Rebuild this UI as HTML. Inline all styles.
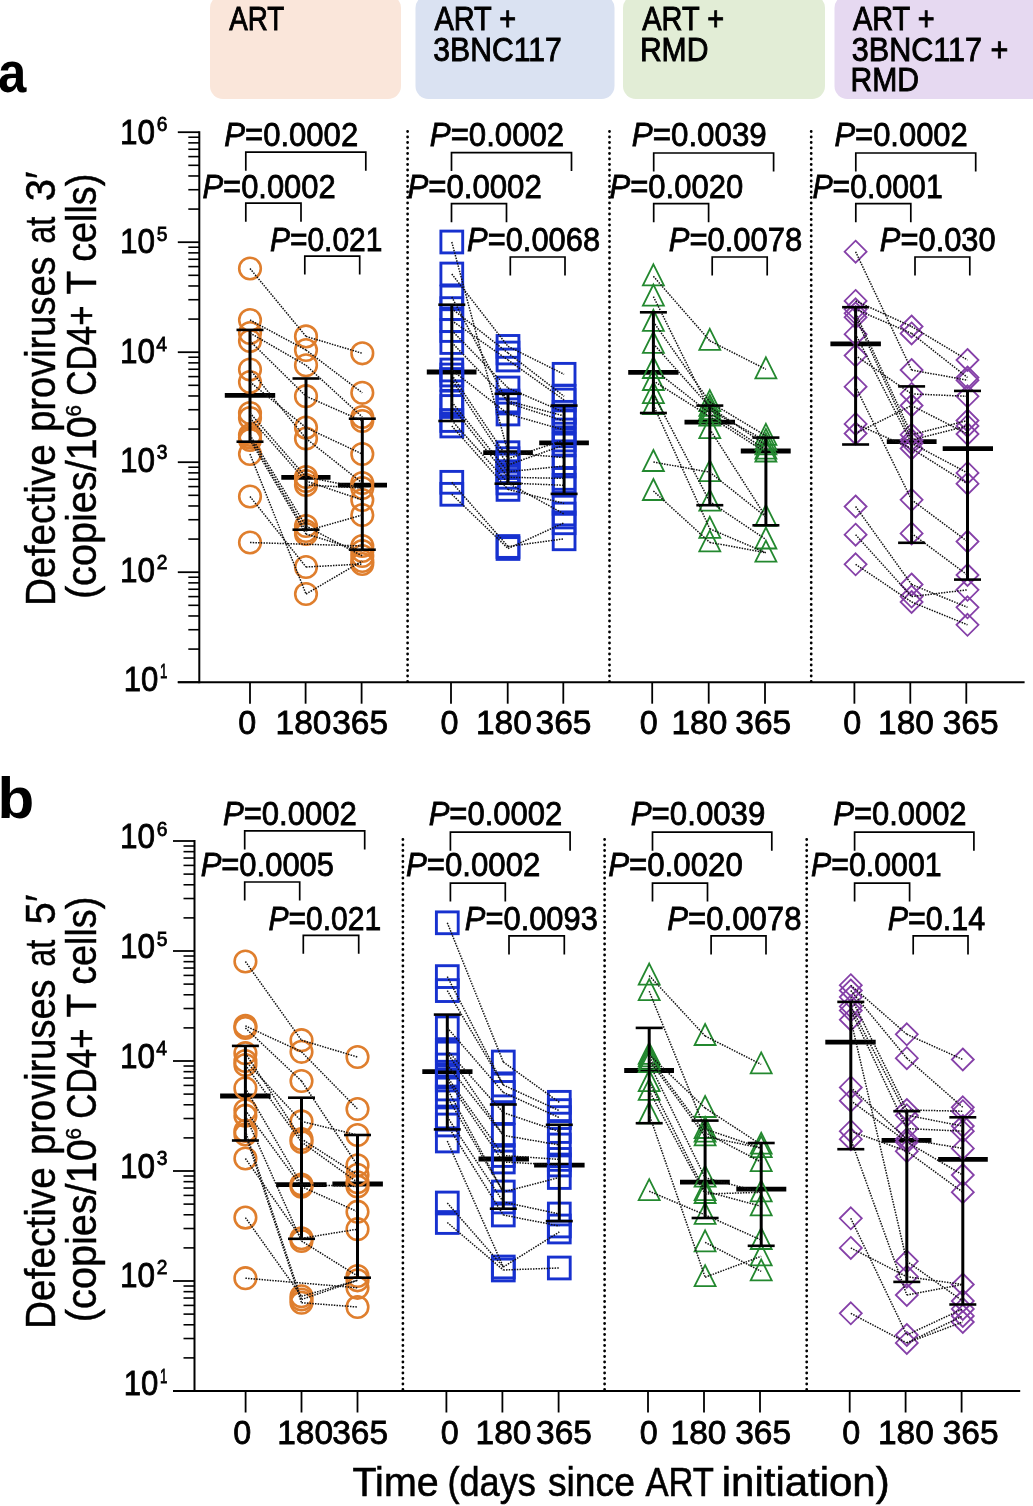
<!DOCTYPE html>
<html><head><meta charset="utf-8"><style>html,body{margin:0;padding:0;background:#fff;}svg{display:block;will-change:transform;}</style></head>
<body>
<svg width="1033" height="1506" viewBox="0 0 1033 1506">
<rect width="1033" height="1506" fill="#ffffff"/>
<rect x="210" y="-5" width="191" height="104" rx="13" ry="13" fill="#FAE6DA"/>
<rect x="415.5" y="-5" width="199.0" height="104" rx="13" ry="13" fill="#DAE2F2"/>
<rect x="623" y="-5" width="202" height="104" rx="13" ry="13" fill="#E2EDD6"/>
<rect x="834.5" y="-5" width="210.5" height="104" rx="13" ry="13" fill="#E6D9F1"/>
<text font-family="Liberation Sans" font-size="32.9" x="229.19" y="29.60" textLength="55.09" lengthAdjust="spacingAndGlyphs"  stroke="#000" stroke-width="0.9">ART</text>
<text font-family="Liberation Sans" font-size="32.9" x="434.39" y="29.60" textLength="81.77" lengthAdjust="spacingAndGlyphs"  stroke="#000" stroke-width="0.9">ART +</text>
<text font-family="Liberation Sans" font-size="32.9" x="433.30" y="60.80" textLength="128.44" lengthAdjust="spacingAndGlyphs"  stroke="#000" stroke-width="0.9">3BNC117</text>
<text font-family="Liberation Sans" font-size="32.9" x="642.29" y="29.60" textLength="81.77" lengthAdjust="spacingAndGlyphs"  stroke="#000" stroke-width="0.9">ART +</text>
<text font-family="Liberation Sans" font-size="32.9" x="639.88" y="60.80" textLength="68.52" lengthAdjust="spacingAndGlyphs"  stroke="#000" stroke-width="0.9">RMD</text>
<text font-family="Liberation Sans" font-size="32.9" x="852.89" y="29.60" textLength="81.77" lengthAdjust="spacingAndGlyphs"  stroke="#000" stroke-width="0.9">ART +</text>
<text font-family="Liberation Sans" font-size="32.9" x="851.79" y="60.80" textLength="156.54" lengthAdjust="spacingAndGlyphs"  stroke="#000" stroke-width="0.9">3BNC117 +</text>
<text font-family="Liberation Sans" font-size="32.9" x="850.48" y="91.40" textLength="68.52" lengthAdjust="spacingAndGlyphs"  stroke="#000" stroke-width="0.9">RMD</text>
<text font-family="Liberation Sans" font-weight="bold" font-size="57" x="-1.98" y="91.50" textLength="28.33" lengthAdjust="spacingAndGlyphs" >a</text>
<text font-family="Liberation Sans" font-weight="bold" font-size="57" x="-2.47" y="817.90" textLength="36.72" lengthAdjust="spacingAndGlyphs" >b</text>
<line x1="199.3" y1="131.20000000000005" x2="199.3" y2="683.2" stroke="#000" stroke-width="2"/>
<line x1="177.8" y1="682.2" x2="1024.6" y2="682.2" stroke="#000" stroke-width="2"/>
<line x1="177.8" y1="682.20" x2="199.3" y2="682.20" stroke="#000" stroke-width="1.8"/>
<line x1="188.3" y1="649.09" x2="199.3" y2="649.09" stroke="#000" stroke-width="1.6"/>
<line x1="188.3" y1="629.72" x2="199.3" y2="629.72" stroke="#000" stroke-width="1.6"/>
<line x1="188.3" y1="615.97" x2="199.3" y2="615.97" stroke="#000" stroke-width="1.6"/>
<line x1="188.3" y1="605.31" x2="199.3" y2="605.31" stroke="#000" stroke-width="1.6"/>
<line x1="188.3" y1="596.60" x2="199.3" y2="596.60" stroke="#000" stroke-width="1.6"/>
<line x1="188.3" y1="589.24" x2="199.3" y2="589.24" stroke="#000" stroke-width="1.6"/>
<line x1="188.3" y1="582.86" x2="199.3" y2="582.86" stroke="#000" stroke-width="1.6"/>
<line x1="188.3" y1="577.23" x2="199.3" y2="577.23" stroke="#000" stroke-width="1.6"/>
<line x1="177.8" y1="572.20" x2="199.3" y2="572.20" stroke="#000" stroke-width="1.8"/>
<line x1="188.3" y1="539.09" x2="199.3" y2="539.09" stroke="#000" stroke-width="1.6"/>
<line x1="188.3" y1="519.72" x2="199.3" y2="519.72" stroke="#000" stroke-width="1.6"/>
<line x1="188.3" y1="505.97" x2="199.3" y2="505.97" stroke="#000" stroke-width="1.6"/>
<line x1="188.3" y1="495.31" x2="199.3" y2="495.31" stroke="#000" stroke-width="1.6"/>
<line x1="188.3" y1="486.60" x2="199.3" y2="486.60" stroke="#000" stroke-width="1.6"/>
<line x1="188.3" y1="479.24" x2="199.3" y2="479.24" stroke="#000" stroke-width="1.6"/>
<line x1="188.3" y1="472.86" x2="199.3" y2="472.86" stroke="#000" stroke-width="1.6"/>
<line x1="188.3" y1="467.23" x2="199.3" y2="467.23" stroke="#000" stroke-width="1.6"/>
<line x1="177.8" y1="462.20" x2="199.3" y2="462.20" stroke="#000" stroke-width="1.8"/>
<line x1="188.3" y1="429.09" x2="199.3" y2="429.09" stroke="#000" stroke-width="1.6"/>
<line x1="188.3" y1="409.72" x2="199.3" y2="409.72" stroke="#000" stroke-width="1.6"/>
<line x1="188.3" y1="395.97" x2="199.3" y2="395.97" stroke="#000" stroke-width="1.6"/>
<line x1="188.3" y1="385.31" x2="199.3" y2="385.31" stroke="#000" stroke-width="1.6"/>
<line x1="188.3" y1="376.60" x2="199.3" y2="376.60" stroke="#000" stroke-width="1.6"/>
<line x1="188.3" y1="369.24" x2="199.3" y2="369.24" stroke="#000" stroke-width="1.6"/>
<line x1="188.3" y1="362.86" x2="199.3" y2="362.86" stroke="#000" stroke-width="1.6"/>
<line x1="188.3" y1="357.23" x2="199.3" y2="357.23" stroke="#000" stroke-width="1.6"/>
<line x1="177.8" y1="352.20" x2="199.3" y2="352.20" stroke="#000" stroke-width="1.8"/>
<line x1="188.3" y1="319.09" x2="199.3" y2="319.09" stroke="#000" stroke-width="1.6"/>
<line x1="188.3" y1="299.72" x2="199.3" y2="299.72" stroke="#000" stroke-width="1.6"/>
<line x1="188.3" y1="285.97" x2="199.3" y2="285.97" stroke="#000" stroke-width="1.6"/>
<line x1="188.3" y1="275.31" x2="199.3" y2="275.31" stroke="#000" stroke-width="1.6"/>
<line x1="188.3" y1="266.60" x2="199.3" y2="266.60" stroke="#000" stroke-width="1.6"/>
<line x1="188.3" y1="259.24" x2="199.3" y2="259.24" stroke="#000" stroke-width="1.6"/>
<line x1="188.3" y1="252.86" x2="199.3" y2="252.86" stroke="#000" stroke-width="1.6"/>
<line x1="188.3" y1="247.23" x2="199.3" y2="247.23" stroke="#000" stroke-width="1.6"/>
<line x1="177.8" y1="242.20" x2="199.3" y2="242.20" stroke="#000" stroke-width="1.8"/>
<line x1="188.3" y1="209.09" x2="199.3" y2="209.09" stroke="#000" stroke-width="1.6"/>
<line x1="188.3" y1="189.72" x2="199.3" y2="189.72" stroke="#000" stroke-width="1.6"/>
<line x1="188.3" y1="175.97" x2="199.3" y2="175.97" stroke="#000" stroke-width="1.6"/>
<line x1="188.3" y1="165.31" x2="199.3" y2="165.31" stroke="#000" stroke-width="1.6"/>
<line x1="188.3" y1="156.60" x2="199.3" y2="156.60" stroke="#000" stroke-width="1.6"/>
<line x1="188.3" y1="149.24" x2="199.3" y2="149.24" stroke="#000" stroke-width="1.6"/>
<line x1="188.3" y1="142.86" x2="199.3" y2="142.86" stroke="#000" stroke-width="1.6"/>
<line x1="188.3" y1="137.23" x2="199.3" y2="137.23" stroke="#000" stroke-width="1.6"/>
<line x1="177.8" y1="132.20" x2="199.3" y2="132.20" stroke="#000" stroke-width="1.8"/>
<line x1="250.0" y1="682.2" x2="250.0" y2="703.7" stroke="#000" stroke-width="1.8"/>
<line x1="305.6" y1="682.2" x2="305.6" y2="703.7" stroke="#000" stroke-width="1.8"/>
<line x1="361.6" y1="682.2" x2="361.6" y2="703.7" stroke="#000" stroke-width="1.8"/>
<line x1="451.0" y1="682.2" x2="451.0" y2="703.7" stroke="#000" stroke-width="1.8"/>
<line x1="507.7" y1="682.2" x2="507.7" y2="703.7" stroke="#000" stroke-width="1.8"/>
<line x1="563.3" y1="682.2" x2="563.3" y2="703.7" stroke="#000" stroke-width="1.8"/>
<line x1="652.2" y1="682.2" x2="652.2" y2="703.7" stroke="#000" stroke-width="1.8"/>
<line x1="708.7" y1="682.2" x2="708.7" y2="703.7" stroke="#000" stroke-width="1.8"/>
<line x1="765.0" y1="682.2" x2="765.0" y2="703.7" stroke="#000" stroke-width="1.8"/>
<line x1="854.4" y1="682.2" x2="854.4" y2="703.7" stroke="#000" stroke-width="1.8"/>
<line x1="910.3" y1="682.2" x2="910.3" y2="703.7" stroke="#000" stroke-width="1.8"/>
<line x1="966.3" y1="682.2" x2="966.3" y2="703.7" stroke="#000" stroke-width="1.8"/>
<line x1="407.6" y1="131.5" x2="407.6" y2="684.2" stroke="#000" stroke-width="2.8" stroke-dasharray="0 5.5" stroke-linecap="round"/>
<line x1="609.5" y1="131.5" x2="609.5" y2="684.2" stroke="#000" stroke-width="2.8" stroke-dasharray="0 5.5" stroke-linecap="round"/>
<line x1="811.2" y1="131.5" x2="811.2" y2="684.2" stroke="#000" stroke-width="2.8" stroke-dasharray="0 5.5" stroke-linecap="round"/>
<line x1="194.5" y1="840.0" x2="194.5" y2="1392.0" stroke="#000" stroke-width="2"/>
<line x1="173.0" y1="1391.0" x2="1020.2" y2="1391.0" stroke="#000" stroke-width="2"/>
<line x1="173.0" y1="1391.00" x2="194.5" y2="1391.00" stroke="#000" stroke-width="1.8"/>
<line x1="183.5" y1="1357.89" x2="194.5" y2="1357.89" stroke="#000" stroke-width="1.6"/>
<line x1="183.5" y1="1338.52" x2="194.5" y2="1338.52" stroke="#000" stroke-width="1.6"/>
<line x1="183.5" y1="1324.77" x2="194.5" y2="1324.77" stroke="#000" stroke-width="1.6"/>
<line x1="183.5" y1="1314.11" x2="194.5" y2="1314.11" stroke="#000" stroke-width="1.6"/>
<line x1="183.5" y1="1305.40" x2="194.5" y2="1305.40" stroke="#000" stroke-width="1.6"/>
<line x1="183.5" y1="1298.04" x2="194.5" y2="1298.04" stroke="#000" stroke-width="1.6"/>
<line x1="183.5" y1="1291.66" x2="194.5" y2="1291.66" stroke="#000" stroke-width="1.6"/>
<line x1="183.5" y1="1286.03" x2="194.5" y2="1286.03" stroke="#000" stroke-width="1.6"/>
<line x1="173.0" y1="1281.00" x2="194.5" y2="1281.00" stroke="#000" stroke-width="1.8"/>
<line x1="183.5" y1="1247.89" x2="194.5" y2="1247.89" stroke="#000" stroke-width="1.6"/>
<line x1="183.5" y1="1228.52" x2="194.5" y2="1228.52" stroke="#000" stroke-width="1.6"/>
<line x1="183.5" y1="1214.77" x2="194.5" y2="1214.77" stroke="#000" stroke-width="1.6"/>
<line x1="183.5" y1="1204.11" x2="194.5" y2="1204.11" stroke="#000" stroke-width="1.6"/>
<line x1="183.5" y1="1195.40" x2="194.5" y2="1195.40" stroke="#000" stroke-width="1.6"/>
<line x1="183.5" y1="1188.04" x2="194.5" y2="1188.04" stroke="#000" stroke-width="1.6"/>
<line x1="183.5" y1="1181.66" x2="194.5" y2="1181.66" stroke="#000" stroke-width="1.6"/>
<line x1="183.5" y1="1176.03" x2="194.5" y2="1176.03" stroke="#000" stroke-width="1.6"/>
<line x1="173.0" y1="1171.00" x2="194.5" y2="1171.00" stroke="#000" stroke-width="1.8"/>
<line x1="183.5" y1="1137.89" x2="194.5" y2="1137.89" stroke="#000" stroke-width="1.6"/>
<line x1="183.5" y1="1118.52" x2="194.5" y2="1118.52" stroke="#000" stroke-width="1.6"/>
<line x1="183.5" y1="1104.77" x2="194.5" y2="1104.77" stroke="#000" stroke-width="1.6"/>
<line x1="183.5" y1="1094.11" x2="194.5" y2="1094.11" stroke="#000" stroke-width="1.6"/>
<line x1="183.5" y1="1085.40" x2="194.5" y2="1085.40" stroke="#000" stroke-width="1.6"/>
<line x1="183.5" y1="1078.04" x2="194.5" y2="1078.04" stroke="#000" stroke-width="1.6"/>
<line x1="183.5" y1="1071.66" x2="194.5" y2="1071.66" stroke="#000" stroke-width="1.6"/>
<line x1="183.5" y1="1066.03" x2="194.5" y2="1066.03" stroke="#000" stroke-width="1.6"/>
<line x1="173.0" y1="1061.00" x2="194.5" y2="1061.00" stroke="#000" stroke-width="1.8"/>
<line x1="183.5" y1="1027.89" x2="194.5" y2="1027.89" stroke="#000" stroke-width="1.6"/>
<line x1="183.5" y1="1008.52" x2="194.5" y2="1008.52" stroke="#000" stroke-width="1.6"/>
<line x1="183.5" y1="994.77" x2="194.5" y2="994.77" stroke="#000" stroke-width="1.6"/>
<line x1="183.5" y1="984.11" x2="194.5" y2="984.11" stroke="#000" stroke-width="1.6"/>
<line x1="183.5" y1="975.40" x2="194.5" y2="975.40" stroke="#000" stroke-width="1.6"/>
<line x1="183.5" y1="968.04" x2="194.5" y2="968.04" stroke="#000" stroke-width="1.6"/>
<line x1="183.5" y1="961.66" x2="194.5" y2="961.66" stroke="#000" stroke-width="1.6"/>
<line x1="183.5" y1="956.03" x2="194.5" y2="956.03" stroke="#000" stroke-width="1.6"/>
<line x1="173.0" y1="951.00" x2="194.5" y2="951.00" stroke="#000" stroke-width="1.8"/>
<line x1="183.5" y1="917.89" x2="194.5" y2="917.89" stroke="#000" stroke-width="1.6"/>
<line x1="183.5" y1="898.52" x2="194.5" y2="898.52" stroke="#000" stroke-width="1.6"/>
<line x1="183.5" y1="884.77" x2="194.5" y2="884.77" stroke="#000" stroke-width="1.6"/>
<line x1="183.5" y1="874.11" x2="194.5" y2="874.11" stroke="#000" stroke-width="1.6"/>
<line x1="183.5" y1="865.40" x2="194.5" y2="865.40" stroke="#000" stroke-width="1.6"/>
<line x1="183.5" y1="858.04" x2="194.5" y2="858.04" stroke="#000" stroke-width="1.6"/>
<line x1="183.5" y1="851.66" x2="194.5" y2="851.66" stroke="#000" stroke-width="1.6"/>
<line x1="183.5" y1="846.03" x2="194.5" y2="846.03" stroke="#000" stroke-width="1.6"/>
<line x1="173.0" y1="841.00" x2="194.5" y2="841.00" stroke="#000" stroke-width="1.8"/>
<line x1="245.6" y1="1391.0" x2="245.6" y2="1412.5" stroke="#000" stroke-width="1.8"/>
<line x1="301.5" y1="1391.0" x2="301.5" y2="1412.5" stroke="#000" stroke-width="1.8"/>
<line x1="357.5" y1="1391.0" x2="357.5" y2="1412.5" stroke="#000" stroke-width="1.8"/>
<line x1="446.4" y1="1391.0" x2="446.4" y2="1412.5" stroke="#000" stroke-width="1.8"/>
<line x1="502.4" y1="1391.0" x2="502.4" y2="1412.5" stroke="#000" stroke-width="1.8"/>
<line x1="558.6" y1="1391.0" x2="558.6" y2="1412.5" stroke="#000" stroke-width="1.8"/>
<line x1="648.0" y1="1391.0" x2="648.0" y2="1412.5" stroke="#000" stroke-width="1.8"/>
<line x1="704.0" y1="1391.0" x2="704.0" y2="1412.5" stroke="#000" stroke-width="1.8"/>
<line x1="760.0" y1="1391.0" x2="760.0" y2="1412.5" stroke="#000" stroke-width="1.8"/>
<line x1="849.7" y1="1391.0" x2="849.7" y2="1412.5" stroke="#000" stroke-width="1.8"/>
<line x1="905.6" y1="1391.0" x2="905.6" y2="1412.5" stroke="#000" stroke-width="1.8"/>
<line x1="961.6" y1="1391.0" x2="961.6" y2="1412.5" stroke="#000" stroke-width="1.8"/>
<line x1="402.9" y1="839.5" x2="402.9" y2="1393.0" stroke="#000" stroke-width="2.8" stroke-dasharray="0 5.5" stroke-linecap="round"/>
<line x1="604.6" y1="839.5" x2="604.6" y2="1393.0" stroke="#000" stroke-width="2.8" stroke-dasharray="0 5.5" stroke-linecap="round"/>
<line x1="806.7" y1="839.5" x2="806.7" y2="1393.0" stroke="#000" stroke-width="2.8" stroke-dasharray="0 5.5" stroke-linecap="round"/>
<text font-family="Liberation Sans" font-size="34.5" x="123.84" y="690.60" textLength="34.59" lengthAdjust="spacingAndGlyphs"  stroke="#000" stroke-width="0.8">10</text>
<text font-family="Liberation Sans" font-size="21" x="159.89" y="678.20" textLength="7.36" lengthAdjust="spacingAndGlyphs"  stroke="#000" stroke-width="0.8">1</text>
<text font-family="Liberation Sans" font-size="34.5" x="120.01" y="581.60" textLength="35.03" lengthAdjust="spacingAndGlyphs"  stroke="#000" stroke-width="0.8">10</text>
<text font-family="Liberation Sans" font-size="21" x="156.86" y="569.20" textLength="10.70" lengthAdjust="spacingAndGlyphs"  stroke="#000" stroke-width="0.8">2</text>
<text font-family="Liberation Sans" font-size="34.5" x="120.01" y="471.80" textLength="35.03" lengthAdjust="spacingAndGlyphs"  stroke="#000" stroke-width="0.8">10</text>
<text font-family="Liberation Sans" font-size="21" x="156.71" y="459.40" textLength="10.74" lengthAdjust="spacingAndGlyphs"  stroke="#000" stroke-width="0.8">3</text>
<text font-family="Liberation Sans" font-size="34.5" x="120.01" y="363.20" textLength="35.03" lengthAdjust="spacingAndGlyphs"  stroke="#000" stroke-width="0.8">10</text>
<text font-family="Liberation Sans" font-size="21" x="156.37" y="350.80" textLength="10.80" lengthAdjust="spacingAndGlyphs"  stroke="#000" stroke-width="0.8">4</text>
<text font-family="Liberation Sans" font-size="34.5" x="120.01" y="253.40" textLength="35.03" lengthAdjust="spacingAndGlyphs"  stroke="#000" stroke-width="0.8">10</text>
<text font-family="Liberation Sans" font-size="21" x="156.67" y="241.00" textLength="10.74" lengthAdjust="spacingAndGlyphs"  stroke="#000" stroke-width="0.8">5</text>
<text font-family="Liberation Sans" font-size="34.5" x="120.01" y="143.60" textLength="35.03" lengthAdjust="spacingAndGlyphs"  stroke="#000" stroke-width="0.8">10</text>
<text font-family="Liberation Sans" font-size="21" x="156.74" y="131.20" textLength="10.71" lengthAdjust="spacingAndGlyphs"  stroke="#000" stroke-width="0.8">6</text>
<text font-family="Liberation Sans" font-size="34.5" x="123.84" y="1395.40" textLength="34.59" lengthAdjust="spacingAndGlyphs"  stroke="#000" stroke-width="0.8">10</text>
<text font-family="Liberation Sans" font-size="21" x="159.89" y="1383.00" textLength="7.36" lengthAdjust="spacingAndGlyphs"  stroke="#000" stroke-width="0.8">1</text>
<text font-family="Liberation Sans" font-size="34.5" x="120.01" y="1286.60" textLength="35.03" lengthAdjust="spacingAndGlyphs"  stroke="#000" stroke-width="0.8">10</text>
<text font-family="Liberation Sans" font-size="21" x="156.86" y="1274.20" textLength="10.70" lengthAdjust="spacingAndGlyphs"  stroke="#000" stroke-width="0.8">2</text>
<text font-family="Liberation Sans" font-size="34.5" x="120.01" y="1177.50" textLength="35.03" lengthAdjust="spacingAndGlyphs"  stroke="#000" stroke-width="0.8">10</text>
<text font-family="Liberation Sans" font-size="21" x="156.71" y="1165.10" textLength="10.74" lengthAdjust="spacingAndGlyphs"  stroke="#000" stroke-width="0.8">3</text>
<text font-family="Liberation Sans" font-size="34.5" x="120.01" y="1067.60" textLength="35.03" lengthAdjust="spacingAndGlyphs"  stroke="#000" stroke-width="0.8">10</text>
<text font-family="Liberation Sans" font-size="21" x="156.37" y="1055.20" textLength="10.80" lengthAdjust="spacingAndGlyphs"  stroke="#000" stroke-width="0.8">4</text>
<text font-family="Liberation Sans" font-size="34.5" x="120.01" y="958.00" textLength="35.03" lengthAdjust="spacingAndGlyphs"  stroke="#000" stroke-width="0.8">10</text>
<text font-family="Liberation Sans" font-size="21" x="156.67" y="945.60" textLength="10.74" lengthAdjust="spacingAndGlyphs"  stroke="#000" stroke-width="0.8">5</text>
<text font-family="Liberation Sans" font-size="34.5" x="120.01" y="848.20" textLength="35.03" lengthAdjust="spacingAndGlyphs"  stroke="#000" stroke-width="0.8">10</text>
<text font-family="Liberation Sans" font-size="21" x="156.74" y="835.80" textLength="10.71" lengthAdjust="spacingAndGlyphs"  stroke="#000" stroke-width="0.8">6</text>
<text font-family="Liberation Sans" font-size="34" x="238.14" y="734.20" textLength="17.98" lengthAdjust="spacingAndGlyphs"  stroke="#000" stroke-width="0.8">0</text>
<text font-family="Liberation Sans" font-size="34" x="275.56" y="734.20" textLength="55.87" lengthAdjust="spacingAndGlyphs"  stroke="#000" stroke-width="0.8">180</text>
<text font-family="Liberation Sans" font-size="34" x="332.23" y="734.20" textLength="55.89" lengthAdjust="spacingAndGlyphs"  stroke="#000" stroke-width="0.8">365</text>
<text font-family="Liberation Sans" font-size="34" x="440.44" y="734.20" textLength="17.98" lengthAdjust="spacingAndGlyphs"  stroke="#000" stroke-width="0.8">0</text>
<text font-family="Liberation Sans" font-size="34" x="475.96" y="734.20" textLength="55.87" lengthAdjust="spacingAndGlyphs"  stroke="#000" stroke-width="0.8">180</text>
<text font-family="Liberation Sans" font-size="34" x="535.53" y="734.20" textLength="55.89" lengthAdjust="spacingAndGlyphs"  stroke="#000" stroke-width="0.8">365</text>
<text font-family="Liberation Sans" font-size="34" x="639.84" y="734.20" textLength="17.98" lengthAdjust="spacingAndGlyphs"  stroke="#000" stroke-width="0.8">0</text>
<text font-family="Liberation Sans" font-size="34" x="671.46" y="734.20" textLength="55.87" lengthAdjust="spacingAndGlyphs"  stroke="#000" stroke-width="0.8">180</text>
<text font-family="Liberation Sans" font-size="34" x="735.33" y="734.20" textLength="55.89" lengthAdjust="spacingAndGlyphs"  stroke="#000" stroke-width="0.8">365</text>
<text font-family="Liberation Sans" font-size="34" x="843.14" y="734.20" textLength="17.98" lengthAdjust="spacingAndGlyphs"  stroke="#000" stroke-width="0.8">0</text>
<text font-family="Liberation Sans" font-size="34" x="878.06" y="734.20" textLength="55.87" lengthAdjust="spacingAndGlyphs"  stroke="#000" stroke-width="0.8">180</text>
<text font-family="Liberation Sans" font-size="34" x="942.73" y="734.20" textLength="55.89" lengthAdjust="spacingAndGlyphs"  stroke="#000" stroke-width="0.8">365</text>
<text font-family="Liberation Sans" font-size="34" x="233.14" y="1444.20" textLength="17.98" lengthAdjust="spacingAndGlyphs"  stroke="#000" stroke-width="0.8">0</text>
<text font-family="Liberation Sans" font-size="34" x="277.16" y="1444.20" textLength="55.87" lengthAdjust="spacingAndGlyphs"  stroke="#000" stroke-width="0.8">180</text>
<text font-family="Liberation Sans" font-size="34" x="332.23" y="1444.20" textLength="55.89" lengthAdjust="spacingAndGlyphs"  stroke="#000" stroke-width="0.8">365</text>
<text font-family="Liberation Sans" font-size="34" x="440.64" y="1444.20" textLength="17.98" lengthAdjust="spacingAndGlyphs"  stroke="#000" stroke-width="0.8">0</text>
<text font-family="Liberation Sans" font-size="34" x="475.56" y="1444.20" textLength="55.87" lengthAdjust="spacingAndGlyphs"  stroke="#000" stroke-width="0.8">180</text>
<text font-family="Liberation Sans" font-size="34" x="536.03" y="1444.20" textLength="55.89" lengthAdjust="spacingAndGlyphs"  stroke="#000" stroke-width="0.8">365</text>
<text font-family="Liberation Sans" font-size="34" x="639.74" y="1444.20" textLength="17.98" lengthAdjust="spacingAndGlyphs"  stroke="#000" stroke-width="0.8">0</text>
<text font-family="Liberation Sans" font-size="34" x="670.56" y="1444.20" textLength="55.87" lengthAdjust="spacingAndGlyphs"  stroke="#000" stroke-width="0.8">180</text>
<text font-family="Liberation Sans" font-size="34" x="735.23" y="1444.20" textLength="55.89" lengthAdjust="spacingAndGlyphs"  stroke="#000" stroke-width="0.8">365</text>
<text font-family="Liberation Sans" font-size="34" x="842.24" y="1444.20" textLength="17.98" lengthAdjust="spacingAndGlyphs"  stroke="#000" stroke-width="0.8">0</text>
<text font-family="Liberation Sans" font-size="34" x="877.96" y="1444.20" textLength="55.87" lengthAdjust="spacingAndGlyphs"  stroke="#000" stroke-width="0.8">180</text>
<text font-family="Liberation Sans" font-size="34" x="942.63" y="1444.20" textLength="55.89" lengthAdjust="spacingAndGlyphs"  stroke="#000" stroke-width="0.8">365</text>
<text font-family="Liberation Sans" font-size="41.6" transform="translate(54.70,602.77) rotate(-90)" x="-3.18" y="0" textLength="161.76" lengthAdjust="spacingAndGlyphs" stroke="#000" stroke-width="0.45">Defective</text>
<text font-family="Liberation Sans" font-size="41.6" transform="translate(54.70,429.38) rotate(-90)" x="-2.43" y="0" textLength="175.34" lengthAdjust="spacingAndGlyphs" stroke="#000" stroke-width="0.45">proviruses</text>
<text font-family="Liberation Sans" font-size="41.6" transform="translate(54.70,242.47) rotate(-90)" x="-1.37" y="0" textLength="27.14" lengthAdjust="spacingAndGlyphs" stroke="#000" stroke-width="0.45">at</text>
<text font-family="Liberation Sans" font-size="41.6" transform="translate(54.70,199.78) rotate(-90)" x="-1.52" y="0" textLength="29.76" lengthAdjust="spacingAndGlyphs" stroke="#000" stroke-width="0.45">3′</text>
<text font-family="Liberation Sans" font-size="41.6" transform="translate(96.30,596.67) rotate(-90)" x="-2.46" y="0" textLength="182.84" lengthAdjust="spacingAndGlyphs" stroke="#000" stroke-width="0.45">(copies/10</text>
<text font-family="Liberation Sans" font-size="41.6" transform="translate(96.30,393.97) rotate(-90)" x="-1.78" y="0" textLength="90.33" lengthAdjust="spacingAndGlyphs" stroke="#000" stroke-width="0.45">CD4+</text>
<text font-family="Liberation Sans" font-size="41.6" transform="translate(96.30,293.67) rotate(-90)" x="-0.85" y="0" textLength="23.69" lengthAdjust="spacingAndGlyphs" stroke="#000" stroke-width="0.45">T</text>
<text font-family="Liberation Sans" font-size="41.6" transform="translate(96.30,260.17) rotate(-90)" x="-1.58" y="0" textLength="88.06" lengthAdjust="spacingAndGlyphs" stroke="#000" stroke-width="0.45">cells)</text>
<text font-family="Liberation Sans" font-size="21.5" transform="translate(81.40,415.47) rotate(-90)" x="-1.06" y="0" textLength="11.52" lengthAdjust="spacingAndGlyphs" stroke="#000" stroke-width="0.45">6</text>
<text font-family="Liberation Sans" font-size="41.6" transform="translate(54.70,1325.78) rotate(-90)" x="-3.18" y="0" textLength="161.76" lengthAdjust="spacingAndGlyphs" stroke="#000" stroke-width="0.45">Defective</text>
<text font-family="Liberation Sans" font-size="41.6" transform="translate(54.70,1152.38) rotate(-90)" x="-2.43" y="0" textLength="175.34" lengthAdjust="spacingAndGlyphs" stroke="#000" stroke-width="0.45">proviruses</text>
<text font-family="Liberation Sans" font-size="41.6" transform="translate(54.70,965.48) rotate(-90)" x="-1.37" y="0" textLength="27.14" lengthAdjust="spacingAndGlyphs" stroke="#000" stroke-width="0.45">at</text>
<text font-family="Liberation Sans" font-size="41.6" transform="translate(54.70,922.77) rotate(-90)" x="-1.61" y="0" textLength="29.84" lengthAdjust="spacingAndGlyphs" stroke="#000" stroke-width="0.45">5′</text>
<text font-family="Liberation Sans" font-size="41.6" transform="translate(96.30,1319.68) rotate(-90)" x="-2.46" y="0" textLength="182.84" lengthAdjust="spacingAndGlyphs" stroke="#000" stroke-width="0.45">(copies/10</text>
<text font-family="Liberation Sans" font-size="41.6" transform="translate(96.30,1116.98) rotate(-90)" x="-1.78" y="0" textLength="90.33" lengthAdjust="spacingAndGlyphs" stroke="#000" stroke-width="0.45">CD4+</text>
<text font-family="Liberation Sans" font-size="41.6" transform="translate(96.30,1016.67) rotate(-90)" x="-0.85" y="0" textLength="23.69" lengthAdjust="spacingAndGlyphs" stroke="#000" stroke-width="0.45">T</text>
<text font-family="Liberation Sans" font-size="41.6" transform="translate(96.30,983.17) rotate(-90)" x="-1.58" y="0" textLength="88.06" lengthAdjust="spacingAndGlyphs" stroke="#000" stroke-width="0.45">cells)</text>
<text font-family="Liberation Sans" font-size="21.5" transform="translate(81.40,1138.48) rotate(-90)" x="-1.06" y="0" textLength="11.52" lengthAdjust="spacingAndGlyphs" stroke="#000" stroke-width="0.45">6</text>
<text font-family="Liberation Sans" font-size="40.5" x="352.53" y="1496.40" textLength="86.10" lengthAdjust="spacingAndGlyphs"  stroke="#000" stroke-width="0.6">Time</text>
<text font-family="Liberation Sans" font-size="40.5" x="447.46" y="1496.40" textLength="88.35" lengthAdjust="spacingAndGlyphs"  stroke="#000" stroke-width="0.6">(days</text>
<text font-family="Liberation Sans" font-size="40.5" x="547.96" y="1496.40" textLength="86.90" lengthAdjust="spacingAndGlyphs"  stroke="#000" stroke-width="0.6">since</text>
<text font-family="Liberation Sans" font-size="40.5" x="645.43" y="1496.40" textLength="68.56" lengthAdjust="spacingAndGlyphs"  stroke="#000" stroke-width="0.6">ART</text>
<text font-family="Liberation Sans" font-size="40.5" x="721.79" y="1496.40" textLength="167.91" lengthAdjust="spacingAndGlyphs"  stroke="#000" stroke-width="0.6">initiation)</text>
<text font-family="Liberation Sans" font-size="33.5" x="224.35" y="146.00" textLength="133.82" lengthAdjust="spacingAndGlyphs"  stroke="#000" stroke-width="0.8"><tspan font-style="italic">P</tspan>=0.0002</text>
<path d="M245.8,170.7 V152.2 H365.8 V170.7" fill="none" stroke="#000" stroke-width="1.7"/>
<text font-family="Liberation Sans" font-size="33.5" x="202.47" y="197.60" textLength="133.20" lengthAdjust="spacingAndGlyphs"  stroke="#000" stroke-width="0.8"><tspan font-style="italic">P</tspan>=0.0002</text>
<path d="M245.8,221.7 V203.2 H301.0 V221.7" fill="none" stroke="#000" stroke-width="1.7"/>
<text font-family="Liberation Sans" font-size="33.5" x="269.94" y="250.60" textLength="112.54" lengthAdjust="spacingAndGlyphs"  stroke="#000" stroke-width="0.8"><tspan font-style="italic">P</tspan>=0.021</text>
<path d="M304.8,274.6 V256.1 H359.7 V274.6" fill="none" stroke="#000" stroke-width="1.7"/>
<text font-family="Liberation Sans" font-size="33.5" x="429.84" y="146.20" textLength="134.33" lengthAdjust="spacingAndGlyphs"  stroke="#000" stroke-width="0.8"><tspan font-style="italic">P</tspan>=0.0002</text>
<path d="M451.5,171.1 V152.6 H571.5 V171.1" fill="none" stroke="#000" stroke-width="1.7"/>
<text font-family="Liberation Sans" font-size="33.5" x="407.44" y="197.80" textLength="134.33" lengthAdjust="spacingAndGlyphs"  stroke="#000" stroke-width="0.8"><tspan font-style="italic">P</tspan>=0.0002</text>
<path d="M451.5,222.2 V203.7 H506.5 V222.2" fill="none" stroke="#000" stroke-width="1.7"/>
<text font-family="Liberation Sans" font-size="33.5" x="467.07" y="251.00" textLength="132.98" lengthAdjust="spacingAndGlyphs"  stroke="#000" stroke-width="0.8"><tspan font-style="italic">P</tspan>=0.0068</text>
<path d="M510.3,275.5 V257.0 H565.0 V275.5" fill="none" stroke="#000" stroke-width="1.7"/>
<text font-family="Liberation Sans" font-size="33.5" x="631.83" y="146.20" textLength="134.96" lengthAdjust="spacingAndGlyphs"  stroke="#000" stroke-width="0.8"><tspan font-style="italic">P</tspan>=0.0039</text>
<path d="M653.7,171.5 V153.0 H773.6 V171.5" fill="none" stroke="#000" stroke-width="1.7"/>
<text font-family="Liberation Sans" font-size="33.5" x="609.56" y="197.80" textLength="133.57" lengthAdjust="spacingAndGlyphs"  stroke="#000" stroke-width="0.8"><tspan font-style="italic">P</tspan>=0.0020</text>
<path d="M653.7,222.2 V203.7 H708.6 V222.2" fill="none" stroke="#000" stroke-width="1.7"/>
<text font-family="Liberation Sans" font-size="33.5" x="668.76" y="251.00" textLength="133.49" lengthAdjust="spacingAndGlyphs"  stroke="#000" stroke-width="0.8"><tspan font-style="italic">P</tspan>=0.0078</text>
<path d="M712.2,275.5 V257.0 H767.2 V275.5" fill="none" stroke="#000" stroke-width="1.7"/>
<text font-family="Liberation Sans" font-size="33.5" x="834.46" y="146.20" textLength="133.30" lengthAdjust="spacingAndGlyphs"  stroke="#000" stroke-width="0.8"><tspan font-style="italic">P</tspan>=0.0002</text>
<path d="M855.8,171.5 V153.0 H975.7 V171.5" fill="none" stroke="#000" stroke-width="1.7"/>
<text font-family="Liberation Sans" font-size="33.5" x="812.42" y="197.80" textLength="130.28" lengthAdjust="spacingAndGlyphs"  stroke="#000" stroke-width="0.8"><tspan font-style="italic">P</tspan>=0.0001</text>
<path d="M855.8,222.2 V203.7 H910.8 V222.2" fill="none" stroke="#000" stroke-width="1.7"/>
<text font-family="Liberation Sans" font-size="33.5" x="879.87" y="251.00" textLength="115.85" lengthAdjust="spacingAndGlyphs"  stroke="#000" stroke-width="0.8"><tspan font-style="italic">P</tspan>=0.030</text>
<path d="M915.0,275.5 V257.0 H969.8 V275.5" fill="none" stroke="#000" stroke-width="1.7"/>
<text font-family="Liberation Sans" font-size="33.5" x="222.95" y="824.50" textLength="133.92" lengthAdjust="spacingAndGlyphs"  stroke="#000" stroke-width="0.8"><tspan font-style="italic">P</tspan>=0.0002</text>
<path d="M244.7,849.4 V830.9 H364.7 V849.4" fill="none" stroke="#000" stroke-width="1.7"/>
<text font-family="Liberation Sans" font-size="33.5" x="200.66" y="876.30" textLength="133.36" lengthAdjust="spacingAndGlyphs"  stroke="#000" stroke-width="0.8"><tspan font-style="italic">P</tspan>=0.0005</text>
<path d="M244.7,900.5 V882.0 H299.7 V900.5" fill="none" stroke="#000" stroke-width="1.7"/>
<text font-family="Liberation Sans" font-size="33.5" x="268.43" y="929.50" textLength="112.85" lengthAdjust="spacingAndGlyphs"  stroke="#000" stroke-width="0.8"><tspan font-style="italic">P</tspan>=0.021</text>
<path d="M303.3,953.8 V935.3 H358.7 V953.8" fill="none" stroke="#000" stroke-width="1.7"/>
<text font-family="Liberation Sans" font-size="33.5" x="428.66" y="824.50" textLength="133.61" lengthAdjust="spacingAndGlyphs"  stroke="#000" stroke-width="0.8"><tspan font-style="italic">P</tspan>=0.0002</text>
<path d="M450.4,850.7 V832.2 H570.1 V850.7" fill="none" stroke="#000" stroke-width="1.7"/>
<text font-family="Liberation Sans" font-size="33.5" x="406.04" y="876.30" textLength="134.33" lengthAdjust="spacingAndGlyphs"  stroke="#000" stroke-width="0.8"><tspan font-style="italic">P</tspan>=0.0002</text>
<path d="M450.4,901.6 V883.1 H505.3 V901.6" fill="none" stroke="#000" stroke-width="1.7"/>
<text font-family="Liberation Sans" font-size="33.5" x="464.87" y="930.10" textLength="133.01" lengthAdjust="spacingAndGlyphs"  stroke="#000" stroke-width="0.8"><tspan font-style="italic">P</tspan>=0.0093</text>
<path d="M509.0,954.4 V935.9 H564.3 V954.4" fill="none" stroke="#000" stroke-width="1.7"/>
<text font-family="Liberation Sans" font-size="33.5" x="630.74" y="824.50" textLength="134.65" lengthAdjust="spacingAndGlyphs"  stroke="#000" stroke-width="0.8"><tspan font-style="italic">P</tspan>=0.0039</text>
<path d="M652.5,850.7 V832.2 H771.8 V850.7" fill="none" stroke="#000" stroke-width="1.7"/>
<text font-family="Liberation Sans" font-size="33.5" x="608.14" y="876.30" textLength="134.70" lengthAdjust="spacingAndGlyphs"  stroke="#000" stroke-width="0.8"><tspan font-style="italic">P</tspan>=0.0020</text>
<path d="M652.5,901.6 V883.1 H707.5 V901.6" fill="none" stroke="#000" stroke-width="1.7"/>
<text font-family="Liberation Sans" font-size="33.5" x="667.35" y="930.10" textLength="134.11" lengthAdjust="spacingAndGlyphs"  stroke="#000" stroke-width="0.8"><tspan font-style="italic">P</tspan>=0.0078</text>
<path d="M711.1,954.4 V935.9 H766.0 V954.4" fill="none" stroke="#000" stroke-width="1.7"/>
<text font-family="Liberation Sans" font-size="33.5" x="833.37" y="824.50" textLength="133.20" lengthAdjust="spacingAndGlyphs"  stroke="#000" stroke-width="0.8"><tspan font-style="italic">P</tspan>=0.0002</text>
<path d="M854.6,850.7 V832.2 H973.9 V850.7" fill="none" stroke="#000" stroke-width="1.7"/>
<text font-family="Liberation Sans" font-size="33.5" x="811.02" y="876.30" textLength="130.59" lengthAdjust="spacingAndGlyphs"  stroke="#000" stroke-width="0.8"><tspan font-style="italic">P</tspan>=0.0001</text>
<path d="M854.6,901.6 V883.1 H909.6 V901.6" fill="none" stroke="#000" stroke-width="1.7"/>
<text font-family="Liberation Sans" font-size="33.5" x="887.70" y="930.10" textLength="97.39" lengthAdjust="spacingAndGlyphs"  stroke="#000" stroke-width="0.8"><tspan font-style="italic">P</tspan>=0.14</text>
<path d="M913.2,954.4 V935.9 H968.0 V954.4" fill="none" stroke="#000" stroke-width="1.7"/>
<line x1="224.8" y1="395.4" x2="275.2" y2="395.4" stroke="#000" stroke-width="4.8"/>
<line x1="281.3" y1="477.3" x2="330.5" y2="477.3" stroke="#000" stroke-width="4.8"/>
<line x1="337.9" y1="485.1" x2="387.0" y2="485.1" stroke="#000" stroke-width="4.8"/>
<line x1="426.8" y1="372.0" x2="476.5" y2="372.0" stroke="#000" stroke-width="4.8"/>
<line x1="483.2" y1="452.7" x2="532.9" y2="452.7" stroke="#000" stroke-width="4.8"/>
<line x1="539.2" y1="442.9" x2="588.9" y2="442.9" stroke="#000" stroke-width="4.8"/>
<line x1="628.2" y1="372.3" x2="678.5" y2="372.3" stroke="#000" stroke-width="4.8"/>
<line x1="684.5" y1="422.2" x2="735.0" y2="422.2" stroke="#000" stroke-width="4.8"/>
<line x1="740.8" y1="451.0" x2="790.7" y2="451.0" stroke="#000" stroke-width="4.8"/>
<line x1="830.4" y1="343.8" x2="880.9" y2="343.8" stroke="#000" stroke-width="4.8"/>
<line x1="886.8" y1="441.6" x2="936.6" y2="441.6" stroke="#000" stroke-width="4.8"/>
<line x1="942.7" y1="448.7" x2="993.0" y2="448.7" stroke="#000" stroke-width="4.8"/>
<line x1="220.1" y1="1096.0" x2="270.6" y2="1096.0" stroke="#000" stroke-width="4.8"/>
<line x1="276.1" y1="1184.7" x2="326.6" y2="1184.7" stroke="#000" stroke-width="4.8"/>
<line x1="332.4" y1="1184.0" x2="382.9" y2="1184.0" stroke="#000" stroke-width="4.8"/>
<line x1="422.3" y1="1071.6" x2="472.5" y2="1071.6" stroke="#000" stroke-width="4.8"/>
<line x1="478.5" y1="1159.0" x2="529.0" y2="1159.0" stroke="#000" stroke-width="4.8"/>
<line x1="534.1" y1="1165.2" x2="584.6" y2="1165.2" stroke="#000" stroke-width="4.8"/>
<line x1="624.2" y1="1070.5" x2="674.0" y2="1070.5" stroke="#000" stroke-width="4.8"/>
<line x1="680.0" y1="1182.1" x2="729.8" y2="1182.1" stroke="#000" stroke-width="4.8"/>
<line x1="736.3" y1="1189.1" x2="786.3" y2="1189.1" stroke="#000" stroke-width="4.8"/>
<line x1="825.3" y1="1042.2" x2="875.7" y2="1042.2" stroke="#000" stroke-width="4.8"/>
<line x1="881.6" y1="1140.4" x2="931.5" y2="1140.4" stroke="#000" stroke-width="4.8"/>
<line x1="938.1" y1="1159.3" x2="987.8" y2="1159.3" stroke="#000" stroke-width="4.8"/>
<circle cx="250.0" cy="268.5" r="10.8" fill="none" stroke="#DF7E2D" stroke-width="2.6"/>
<circle cx="250.0" cy="320.0" r="10.8" fill="none" stroke="#DF7E2D" stroke-width="2.6"/>
<circle cx="250.0" cy="333.0" r="10.8" fill="none" stroke="#DF7E2D" stroke-width="2.6"/>
<circle cx="250.0" cy="341.0" r="10.8" fill="none" stroke="#DF7E2D" stroke-width="2.6"/>
<circle cx="250.0" cy="369.5" r="10.8" fill="none" stroke="#DF7E2D" stroke-width="2.6"/>
<circle cx="250.0" cy="382.0" r="10.8" fill="none" stroke="#DF7E2D" stroke-width="2.6"/>
<circle cx="250.0" cy="413.0" r="10.8" fill="none" stroke="#DF7E2D" stroke-width="2.6"/>
<circle cx="250.0" cy="418.0" r="10.8" fill="none" stroke="#DF7E2D" stroke-width="2.6"/>
<circle cx="250.0" cy="435.0" r="10.8" fill="none" stroke="#DF7E2D" stroke-width="2.6"/>
<circle cx="250.0" cy="437.5" r="10.8" fill="none" stroke="#DF7E2D" stroke-width="2.6"/>
<circle cx="250.0" cy="440.0" r="10.8" fill="none" stroke="#DF7E2D" stroke-width="2.6"/>
<circle cx="250.0" cy="454.0" r="10.8" fill="none" stroke="#DF7E2D" stroke-width="2.6"/>
<circle cx="250.0" cy="496.5" r="10.8" fill="none" stroke="#DF7E2D" stroke-width="2.6"/>
<circle cx="250.0" cy="542.5" r="10.8" fill="none" stroke="#DF7E2D" stroke-width="2.6"/>
<circle cx="306.0" cy="336.4" r="10.8" fill="none" stroke="#DF7E2D" stroke-width="2.6"/>
<circle cx="306.0" cy="350.0" r="10.8" fill="none" stroke="#DF7E2D" stroke-width="2.6"/>
<circle cx="306.0" cy="365.3" r="10.8" fill="none" stroke="#DF7E2D" stroke-width="2.6"/>
<circle cx="306.0" cy="396.2" r="10.8" fill="none" stroke="#DF7E2D" stroke-width="2.6"/>
<circle cx="306.0" cy="427.6" r="10.8" fill="none" stroke="#DF7E2D" stroke-width="2.6"/>
<circle cx="306.0" cy="438.5" r="10.8" fill="none" stroke="#DF7E2D" stroke-width="2.6"/>
<circle cx="306.0" cy="477.0" r="10.8" fill="none" stroke="#DF7E2D" stroke-width="2.6"/>
<circle cx="306.0" cy="481.0" r="10.8" fill="none" stroke="#DF7E2D" stroke-width="2.6"/>
<circle cx="306.0" cy="485.0" r="10.8" fill="none" stroke="#DF7E2D" stroke-width="2.6"/>
<circle cx="306.0" cy="526.0" r="10.8" fill="none" stroke="#DF7E2D" stroke-width="2.6"/>
<circle cx="306.0" cy="531.0" r="10.8" fill="none" stroke="#DF7E2D" stroke-width="2.6"/>
<circle cx="306.0" cy="534.0" r="10.8" fill="none" stroke="#DF7E2D" stroke-width="2.6"/>
<circle cx="306.0" cy="567.0" r="10.8" fill="none" stroke="#DF7E2D" stroke-width="2.6"/>
<circle cx="306.0" cy="594.0" r="10.8" fill="none" stroke="#DF7E2D" stroke-width="2.6"/>
<circle cx="362.3" cy="353.3" r="10.8" fill="none" stroke="#DF7E2D" stroke-width="2.6"/>
<circle cx="362.3" cy="392.8" r="10.8" fill="none" stroke="#DF7E2D" stroke-width="2.6"/>
<circle cx="362.3" cy="417.0" r="10.8" fill="none" stroke="#DF7E2D" stroke-width="2.6"/>
<circle cx="362.3" cy="421.0" r="10.8" fill="none" stroke="#DF7E2D" stroke-width="2.6"/>
<circle cx="362.3" cy="454.0" r="10.8" fill="none" stroke="#DF7E2D" stroke-width="2.6"/>
<circle cx="362.3" cy="483.0" r="10.8" fill="none" stroke="#DF7E2D" stroke-width="2.6"/>
<circle cx="362.3" cy="488.0" r="10.8" fill="none" stroke="#DF7E2D" stroke-width="2.6"/>
<circle cx="362.3" cy="500.0" r="10.8" fill="none" stroke="#DF7E2D" stroke-width="2.6"/>
<circle cx="362.3" cy="515.0" r="10.8" fill="none" stroke="#DF7E2D" stroke-width="2.6"/>
<circle cx="362.3" cy="546.0" r="10.8" fill="none" stroke="#DF7E2D" stroke-width="2.6"/>
<circle cx="362.3" cy="551.0" r="10.8" fill="none" stroke="#DF7E2D" stroke-width="2.6"/>
<circle cx="362.3" cy="556.0" r="10.8" fill="none" stroke="#DF7E2D" stroke-width="2.6"/>
<circle cx="362.3" cy="561.0" r="10.8" fill="none" stroke="#DF7E2D" stroke-width="2.6"/>
<circle cx="362.3" cy="564.0" r="10.8" fill="none" stroke="#DF7E2D" stroke-width="2.6"/>
<rect x="440.9" y="231.1" width="21.8" height="21.8" fill="none" stroke="#1731CF" stroke-width="2.9"/>
<rect x="440.9" y="263.1" width="21.8" height="21.8" fill="none" stroke="#1731CF" stroke-width="2.9"/>
<rect x="440.9" y="286.1" width="21.8" height="21.8" fill="none" stroke="#1731CF" stroke-width="2.9"/>
<rect x="440.9" y="297.7" width="21.8" height="21.8" fill="none" stroke="#1731CF" stroke-width="2.9"/>
<rect x="440.9" y="309.7" width="21.8" height="21.8" fill="none" stroke="#1731CF" stroke-width="2.9"/>
<rect x="440.9" y="319.6" width="21.8" height="21.8" fill="none" stroke="#1731CF" stroke-width="2.9"/>
<rect x="440.9" y="331.6" width="21.8" height="21.8" fill="none" stroke="#1731CF" stroke-width="2.9"/>
<rect x="440.9" y="359.1" width="21.8" height="21.8" fill="none" stroke="#1731CF" stroke-width="2.9"/>
<rect x="440.9" y="364.1" width="21.8" height="21.8" fill="none" stroke="#1731CF" stroke-width="2.9"/>
<rect x="440.9" y="368.6" width="21.8" height="21.8" fill="none" stroke="#1731CF" stroke-width="2.9"/>
<rect x="440.9" y="391.1" width="21.8" height="21.8" fill="none" stroke="#1731CF" stroke-width="2.9"/>
<rect x="440.9" y="395.6" width="21.8" height="21.8" fill="none" stroke="#1731CF" stroke-width="2.9"/>
<rect x="440.9" y="409.6" width="21.8" height="21.8" fill="none" stroke="#1731CF" stroke-width="2.9"/>
<rect x="440.9" y="415.1" width="21.8" height="21.8" fill="none" stroke="#1731CF" stroke-width="2.9"/>
<rect x="440.9" y="471.4" width="21.8" height="21.8" fill="none" stroke="#1731CF" stroke-width="2.9"/>
<rect x="440.9" y="483.4" width="21.8" height="21.8" fill="none" stroke="#1731CF" stroke-width="2.9"/>
<rect x="497.1" y="335.5" width="21.8" height="21.8" fill="none" stroke="#1731CF" stroke-width="2.9"/>
<rect x="497.1" y="342.1" width="21.8" height="21.8" fill="none" stroke="#1731CF" stroke-width="2.9"/>
<rect x="497.1" y="349.1" width="21.8" height="21.8" fill="none" stroke="#1731CF" stroke-width="2.9"/>
<rect x="497.1" y="377.1" width="21.8" height="21.8" fill="none" stroke="#1731CF" stroke-width="2.9"/>
<rect x="497.1" y="390.1" width="21.8" height="21.8" fill="none" stroke="#1731CF" stroke-width="2.9"/>
<rect x="497.1" y="392.1" width="21.8" height="21.8" fill="none" stroke="#1731CF" stroke-width="2.9"/>
<rect x="497.1" y="403.1" width="21.8" height="21.8" fill="none" stroke="#1731CF" stroke-width="2.9"/>
<rect x="497.1" y="441.8" width="21.8" height="21.8" fill="none" stroke="#1731CF" stroke-width="2.9"/>
<rect x="497.1" y="447.8" width="21.8" height="21.8" fill="none" stroke="#1731CF" stroke-width="2.9"/>
<rect x="497.1" y="454.1" width="21.8" height="21.8" fill="none" stroke="#1731CF" stroke-width="2.9"/>
<rect x="497.1" y="460.8" width="21.8" height="21.8" fill="none" stroke="#1731CF" stroke-width="2.9"/>
<rect x="497.1" y="466.4" width="21.8" height="21.8" fill="none" stroke="#1731CF" stroke-width="2.9"/>
<rect x="497.1" y="472.1" width="21.8" height="21.8" fill="none" stroke="#1731CF" stroke-width="2.9"/>
<rect x="497.1" y="478.5" width="21.8" height="21.8" fill="none" stroke="#1731CF" stroke-width="2.9"/>
<rect x="497.1" y="535.6" width="21.8" height="21.8" fill="none" stroke="#1731CF" stroke-width="2.9"/>
<rect x="497.1" y="537.6" width="21.8" height="21.8" fill="none" stroke="#1731CF" stroke-width="2.9"/>
<rect x="553.2" y="363.4" width="21.8" height="21.8" fill="none" stroke="#1731CF" stroke-width="2.9"/>
<rect x="553.2" y="385.4" width="21.8" height="21.8" fill="none" stroke="#1731CF" stroke-width="2.9"/>
<rect x="553.2" y="389.1" width="21.8" height="21.8" fill="none" stroke="#1731CF" stroke-width="2.9"/>
<rect x="553.2" y="401.4" width="21.8" height="21.8" fill="none" stroke="#1731CF" stroke-width="2.9"/>
<rect x="553.2" y="405.1" width="21.8" height="21.8" fill="none" stroke="#1731CF" stroke-width="2.9"/>
<rect x="553.2" y="410.1" width="21.8" height="21.8" fill="none" stroke="#1731CF" stroke-width="2.9"/>
<rect x="553.2" y="419.1" width="21.8" height="21.8" fill="none" stroke="#1731CF" stroke-width="2.9"/>
<rect x="553.2" y="429.1" width="21.8" height="21.8" fill="none" stroke="#1731CF" stroke-width="2.9"/>
<rect x="553.2" y="434.1" width="21.8" height="21.8" fill="none" stroke="#1731CF" stroke-width="2.9"/>
<rect x="553.2" y="446.7" width="21.8" height="21.8" fill="none" stroke="#1731CF" stroke-width="2.9"/>
<rect x="553.2" y="455.1" width="21.8" height="21.8" fill="none" stroke="#1731CF" stroke-width="2.9"/>
<rect x="553.2" y="467.5" width="21.8" height="21.8" fill="none" stroke="#1731CF" stroke-width="2.9"/>
<rect x="553.2" y="474.4" width="21.8" height="21.8" fill="none" stroke="#1731CF" stroke-width="2.9"/>
<rect x="553.2" y="492.5" width="21.8" height="21.8" fill="none" stroke="#1731CF" stroke-width="2.9"/>
<rect x="553.2" y="503.1" width="21.8" height="21.8" fill="none" stroke="#1731CF" stroke-width="2.9"/>
<rect x="553.2" y="511.9" width="21.8" height="21.8" fill="none" stroke="#1731CF" stroke-width="2.9"/>
<rect x="553.2" y="527.9" width="21.8" height="21.8" fill="none" stroke="#1731CF" stroke-width="2.9"/>
<path d="M653.4,264.3 L663.9,285.3 L642.9,285.3 Z" fill="none" stroke="#23882F" stroke-width="1.8" stroke-linejoin="miter"/>
<path d="M653.4,284.6 L663.9,305.6 L642.9,305.6 Z" fill="none" stroke="#23882F" stroke-width="1.8" stroke-linejoin="miter"/>
<path d="M653.4,309.8 L663.9,330.8 L642.9,330.8 Z" fill="none" stroke="#23882F" stroke-width="1.8" stroke-linejoin="miter"/>
<path d="M653.4,331.8 L663.9,352.8 L642.9,352.8 Z" fill="none" stroke="#23882F" stroke-width="1.8" stroke-linejoin="miter"/>
<path d="M653.4,357.0 L663.9,378.0 L642.9,378.0 Z" fill="none" stroke="#23882F" stroke-width="1.8" stroke-linejoin="miter"/>
<path d="M653.4,369.0 L663.9,390.0 L642.9,390.0 Z" fill="none" stroke="#23882F" stroke-width="1.8" stroke-linejoin="miter"/>
<path d="M653.4,382.2 L663.9,403.2 L642.9,403.2 Z" fill="none" stroke="#23882F" stroke-width="1.8" stroke-linejoin="miter"/>
<path d="M653.4,393.2 L663.9,414.2 L642.9,414.2 Z" fill="none" stroke="#23882F" stroke-width="1.8" stroke-linejoin="miter"/>
<path d="M653.4,450.0 L663.9,471.0 L642.9,471.0 Z" fill="none" stroke="#23882F" stroke-width="1.8" stroke-linejoin="miter"/>
<path d="M653.4,479.0 L663.9,500.0 L642.9,500.0 Z" fill="none" stroke="#23882F" stroke-width="1.8" stroke-linejoin="miter"/>
<path d="M709.8,328.8 L720.3,349.8 L699.3,349.8 Z" fill="none" stroke="#23882F" stroke-width="1.8" stroke-linejoin="miter"/>
<path d="M709.8,390.1 L720.3,411.1 L699.3,411.1 Z" fill="none" stroke="#23882F" stroke-width="1.8" stroke-linejoin="miter"/>
<path d="M709.8,394.9 L720.3,415.9 L699.3,415.9 Z" fill="none" stroke="#23882F" stroke-width="1.8" stroke-linejoin="miter"/>
<path d="M709.8,398.1 L720.3,419.1 L699.3,419.1 Z" fill="none" stroke="#23882F" stroke-width="1.8" stroke-linejoin="miter"/>
<path d="M709.8,401.3 L720.3,422.3 L699.3,422.3 Z" fill="none" stroke="#23882F" stroke-width="1.8" stroke-linejoin="miter"/>
<path d="M709.8,404.5 L720.3,425.5 L699.3,425.5 Z" fill="none" stroke="#23882F" stroke-width="1.8" stroke-linejoin="miter"/>
<path d="M709.8,417.2 L720.3,438.2 L699.3,438.2 Z" fill="none" stroke="#23882F" stroke-width="1.8" stroke-linejoin="miter"/>
<path d="M709.8,460.2 L720.3,481.2 L699.3,481.2 Z" fill="none" stroke="#23882F" stroke-width="1.8" stroke-linejoin="miter"/>
<path d="M709.8,489.7 L720.3,510.7 L699.3,510.7 Z" fill="none" stroke="#23882F" stroke-width="1.8" stroke-linejoin="miter"/>
<path d="M709.8,516.8 L720.3,537.8 L699.3,537.8 Z" fill="none" stroke="#23882F" stroke-width="1.8" stroke-linejoin="miter"/>
<path d="M709.8,530.4 L720.3,551.4 L699.3,551.4 Z" fill="none" stroke="#23882F" stroke-width="1.8" stroke-linejoin="miter"/>
<path d="M765.9,357.3 L776.4,378.3 L755.4,378.3 Z" fill="none" stroke="#23882F" stroke-width="1.8" stroke-linejoin="miter"/>
<path d="M765.9,423.8 L776.4,444.8 L755.4,444.8 Z" fill="none" stroke="#23882F" stroke-width="1.8" stroke-linejoin="miter"/>
<path d="M765.9,428.9 L776.4,449.9 L755.4,449.9 Z" fill="none" stroke="#23882F" stroke-width="1.8" stroke-linejoin="miter"/>
<path d="M765.9,433.3 L776.4,454.3 L755.4,454.3 Z" fill="none" stroke="#23882F" stroke-width="1.8" stroke-linejoin="miter"/>
<path d="M765.9,437.7 L776.4,458.7 L755.4,458.7 Z" fill="none" stroke="#23882F" stroke-width="1.8" stroke-linejoin="miter"/>
<path d="M765.9,440.5 L776.4,461.5 L755.4,461.5 Z" fill="none" stroke="#23882F" stroke-width="1.8" stroke-linejoin="miter"/>
<path d="M765.9,504.9 L776.4,525.9 L755.4,525.9 Z" fill="none" stroke="#23882F" stroke-width="1.8" stroke-linejoin="miter"/>
<path d="M765.9,527.5 L776.4,548.5 L755.4,548.5 Z" fill="none" stroke="#23882F" stroke-width="1.8" stroke-linejoin="miter"/>
<path d="M765.9,540.7 L776.4,561.7 L755.4,561.7 Z" fill="none" stroke="#23882F" stroke-width="1.8" stroke-linejoin="miter"/>
<path d="M855.6,240.7 L866.6,251.7 L855.6,262.7 L844.6,251.7 Z" fill="none" stroke="#8540A8" stroke-width="1.8"/>
<path d="M855.6,289.9 L866.6,300.9 L855.6,311.9 L844.6,300.9 Z" fill="none" stroke="#8540A8" stroke-width="1.8"/>
<path d="M855.6,298.3 L866.6,309.3 L855.6,320.3 L844.6,309.3 Z" fill="none" stroke="#8540A8" stroke-width="1.8"/>
<path d="M855.6,302.3 L866.6,313.3 L855.6,324.3 L844.6,313.3 Z" fill="none" stroke="#8540A8" stroke-width="1.8"/>
<path d="M855.6,306.2 L866.6,317.2 L855.6,328.2 L844.6,317.2 Z" fill="none" stroke="#8540A8" stroke-width="1.8"/>
<path d="M855.6,323.2 L866.6,334.2 L855.6,345.2 L844.6,334.2 Z" fill="none" stroke="#8540A8" stroke-width="1.8"/>
<path d="M855.6,344.6 L866.6,355.6 L855.6,366.6 L844.6,355.6 Z" fill="none" stroke="#8540A8" stroke-width="1.8"/>
<path d="M855.6,375.7 L866.6,386.7 L855.6,397.7 L844.6,386.7 Z" fill="none" stroke="#8540A8" stroke-width="1.8"/>
<path d="M855.6,412.9 L866.6,423.9 L855.6,434.9 L844.6,423.9 Z" fill="none" stroke="#8540A8" stroke-width="1.8"/>
<path d="M855.6,422.5 L866.6,433.5 L855.6,444.5 L844.6,433.5 Z" fill="none" stroke="#8540A8" stroke-width="1.8"/>
<path d="M855.6,495.5 L866.6,506.5 L855.6,517.5 L844.6,506.5 Z" fill="none" stroke="#8540A8" stroke-width="1.8"/>
<path d="M855.6,523.7 L866.6,534.7 L855.6,545.7 L844.6,534.7 Z" fill="none" stroke="#8540A8" stroke-width="1.8"/>
<path d="M855.6,553.3 L866.6,564.3 L855.6,575.3 L844.6,564.3 Z" fill="none" stroke="#8540A8" stroke-width="1.8"/>
<path d="M911.6,315.5 L922.6,326.5 L911.6,337.5 L900.6,326.5 Z" fill="none" stroke="#8540A8" stroke-width="1.8"/>
<path d="M911.6,322.4 L922.6,333.4 L911.6,344.4 L900.6,333.4 Z" fill="none" stroke="#8540A8" stroke-width="1.8"/>
<path d="M911.6,359.0 L922.6,370.0 L911.6,381.0 L900.6,370.0 Z" fill="none" stroke="#8540A8" stroke-width="1.8"/>
<path d="M911.6,382.9 L922.6,393.9 L911.6,404.9 L900.6,393.9 Z" fill="none" stroke="#8540A8" stroke-width="1.8"/>
<path d="M911.6,394.5 L922.6,405.5 L911.6,416.5 L900.6,405.5 Z" fill="none" stroke="#8540A8" stroke-width="1.8"/>
<path d="M911.6,423.7 L922.6,434.7 L911.6,445.7 L900.6,434.7 Z" fill="none" stroke="#8540A8" stroke-width="1.8"/>
<path d="M911.6,429.0 L922.6,440.0 L911.6,451.0 L900.6,440.0 Z" fill="none" stroke="#8540A8" stroke-width="1.8"/>
<path d="M911.6,432.2 L922.6,443.2 L911.6,454.2 L900.6,443.2 Z" fill="none" stroke="#8540A8" stroke-width="1.8"/>
<path d="M911.6,437.5 L922.6,448.5 L911.6,459.5 L900.6,448.5 Z" fill="none" stroke="#8540A8" stroke-width="1.8"/>
<path d="M911.6,488.8 L922.6,499.8 L911.6,510.8 L900.6,499.8 Z" fill="none" stroke="#8540A8" stroke-width="1.8"/>
<path d="M911.6,522.4 L922.6,533.4 L911.6,544.4 L900.6,533.4 Z" fill="none" stroke="#8540A8" stroke-width="1.8"/>
<path d="M911.6,573.5 L922.6,584.5 L911.6,595.5 L900.6,584.5 Z" fill="none" stroke="#8540A8" stroke-width="1.8"/>
<path d="M911.6,585.6 L922.6,596.6 L911.6,607.6 L900.6,596.6 Z" fill="none" stroke="#8540A8" stroke-width="1.8"/>
<path d="M911.6,591.0 L922.6,602.0 L911.6,613.0 L900.6,602.0 Z" fill="none" stroke="#8540A8" stroke-width="1.8"/>
<path d="M967.5,349.0 L978.5,360.0 L967.5,371.0 L956.5,360.0 Z" fill="none" stroke="#8540A8" stroke-width="1.8"/>
<path d="M967.5,366.5 L978.5,377.5 L967.5,388.5 L956.5,377.5 Z" fill="none" stroke="#8540A8" stroke-width="1.8"/>
<path d="M967.5,369.2 L978.5,380.2 L967.5,391.2 L956.5,380.2 Z" fill="none" stroke="#8540A8" stroke-width="1.8"/>
<path d="M967.5,385.3 L978.5,396.3 L967.5,407.3 L956.5,396.3 Z" fill="none" stroke="#8540A8" stroke-width="1.8"/>
<path d="M967.5,409.5 L978.5,420.5 L967.5,431.5 L956.5,420.5 Z" fill="none" stroke="#8540A8" stroke-width="1.8"/>
<path d="M967.5,414.9 L978.5,425.9 L967.5,436.9 L956.5,425.9 Z" fill="none" stroke="#8540A8" stroke-width="1.8"/>
<path d="M967.5,423.0 L978.5,434.0 L967.5,445.0 L956.5,434.0 Z" fill="none" stroke="#8540A8" stroke-width="1.8"/>
<path d="M967.5,461.9 L978.5,472.9 L967.5,483.9 L956.5,472.9 Z" fill="none" stroke="#8540A8" stroke-width="1.8"/>
<path d="M967.5,472.7 L978.5,483.7 L967.5,494.7 L956.5,483.7 Z" fill="none" stroke="#8540A8" stroke-width="1.8"/>
<path d="M967.5,530.5 L978.5,541.5 L967.5,552.5 L956.5,541.5 Z" fill="none" stroke="#8540A8" stroke-width="1.8"/>
<path d="M967.5,564.0 L978.5,575.0 L967.5,586.0 L956.5,575.0 Z" fill="none" stroke="#8540A8" stroke-width="1.8"/>
<path d="M967.5,578.8 L978.5,589.8 L967.5,600.8 L956.5,589.8 Z" fill="none" stroke="#8540A8" stroke-width="1.8"/>
<path d="M967.5,596.3 L978.5,607.3 L967.5,618.3 L956.5,607.3 Z" fill="none" stroke="#8540A8" stroke-width="1.8"/>
<path d="M967.5,613.8 L978.5,624.8 L967.5,635.8 L956.5,624.8 Z" fill="none" stroke="#8540A8" stroke-width="1.8"/>
<circle cx="245.4" cy="961.5" r="10.8" fill="none" stroke="#DF7E2D" stroke-width="2.6"/>
<circle cx="245.4" cy="1025.9" r="10.8" fill="none" stroke="#DF7E2D" stroke-width="2.6"/>
<circle cx="245.4" cy="1028.0" r="10.8" fill="none" stroke="#DF7E2D" stroke-width="2.6"/>
<circle cx="245.4" cy="1053.2" r="10.8" fill="none" stroke="#DF7E2D" stroke-width="2.6"/>
<circle cx="245.4" cy="1061.0" r="10.8" fill="none" stroke="#DF7E2D" stroke-width="2.6"/>
<circle cx="245.4" cy="1065.0" r="10.8" fill="none" stroke="#DF7E2D" stroke-width="2.6"/>
<circle cx="245.4" cy="1088.3" r="10.8" fill="none" stroke="#DF7E2D" stroke-width="2.6"/>
<circle cx="245.4" cy="1110.3" r="10.8" fill="none" stroke="#DF7E2D" stroke-width="2.6"/>
<circle cx="245.4" cy="1115.7" r="10.8" fill="none" stroke="#DF7E2D" stroke-width="2.6"/>
<circle cx="245.4" cy="1131.0" r="10.8" fill="none" stroke="#DF7E2D" stroke-width="2.6"/>
<circle cx="245.4" cy="1134.4" r="10.8" fill="none" stroke="#DF7E2D" stroke-width="2.6"/>
<circle cx="245.4" cy="1158.5" r="10.8" fill="none" stroke="#DF7E2D" stroke-width="2.6"/>
<circle cx="245.4" cy="1217.6" r="10.8" fill="none" stroke="#DF7E2D" stroke-width="2.6"/>
<circle cx="245.4" cy="1278.2" r="10.8" fill="none" stroke="#DF7E2D" stroke-width="2.6"/>
<circle cx="301.5" cy="1040.2" r="10.8" fill="none" stroke="#DF7E2D" stroke-width="2.6"/>
<circle cx="301.5" cy="1051.8" r="10.8" fill="none" stroke="#DF7E2D" stroke-width="2.6"/>
<circle cx="301.5" cy="1081.0" r="10.8" fill="none" stroke="#DF7E2D" stroke-width="2.6"/>
<circle cx="301.5" cy="1121.4" r="10.8" fill="none" stroke="#DF7E2D" stroke-width="2.6"/>
<circle cx="301.5" cy="1139.0" r="10.8" fill="none" stroke="#DF7E2D" stroke-width="2.6"/>
<circle cx="301.5" cy="1142.0" r="10.8" fill="none" stroke="#DF7E2D" stroke-width="2.6"/>
<circle cx="301.5" cy="1184.5" r="10.8" fill="none" stroke="#DF7E2D" stroke-width="2.6"/>
<circle cx="301.5" cy="1186.6" r="10.8" fill="none" stroke="#DF7E2D" stroke-width="2.6"/>
<circle cx="301.5" cy="1238.3" r="10.8" fill="none" stroke="#DF7E2D" stroke-width="2.6"/>
<circle cx="301.5" cy="1241.0" r="10.8" fill="none" stroke="#DF7E2D" stroke-width="2.6"/>
<circle cx="301.5" cy="1296.3" r="10.8" fill="none" stroke="#DF7E2D" stroke-width="2.6"/>
<circle cx="301.5" cy="1299.5" r="10.8" fill="none" stroke="#DF7E2D" stroke-width="2.6"/>
<circle cx="301.5" cy="1302.7" r="10.8" fill="none" stroke="#DF7E2D" stroke-width="2.6"/>
<circle cx="357.5" cy="1057.0" r="10.8" fill="none" stroke="#DF7E2D" stroke-width="2.6"/>
<circle cx="357.5" cy="1109.0" r="10.8" fill="none" stroke="#DF7E2D" stroke-width="2.6"/>
<circle cx="357.5" cy="1135.0" r="10.8" fill="none" stroke="#DF7E2D" stroke-width="2.6"/>
<circle cx="357.5" cy="1165.3" r="10.8" fill="none" stroke="#DF7E2D" stroke-width="2.6"/>
<circle cx="357.5" cy="1174.8" r="10.8" fill="none" stroke="#DF7E2D" stroke-width="2.6"/>
<circle cx="357.5" cy="1182.3" r="10.8" fill="none" stroke="#DF7E2D" stroke-width="2.6"/>
<circle cx="357.5" cy="1186.5" r="10.8" fill="none" stroke="#DF7E2D" stroke-width="2.6"/>
<circle cx="357.5" cy="1211.7" r="10.8" fill="none" stroke="#DF7E2D" stroke-width="2.6"/>
<circle cx="357.5" cy="1229.2" r="10.8" fill="none" stroke="#DF7E2D" stroke-width="2.6"/>
<circle cx="357.5" cy="1276.0" r="10.8" fill="none" stroke="#DF7E2D" stroke-width="2.6"/>
<circle cx="357.5" cy="1280.3" r="10.8" fill="none" stroke="#DF7E2D" stroke-width="2.6"/>
<circle cx="357.5" cy="1287.8" r="10.8" fill="none" stroke="#DF7E2D" stroke-width="2.6"/>
<circle cx="357.5" cy="1307.0" r="10.8" fill="none" stroke="#DF7E2D" stroke-width="2.6"/>
<rect x="436.4" y="911.9" width="21.8" height="21.8" fill="none" stroke="#1731CF" stroke-width="2.9"/>
<rect x="436.4" y="965.7" width="21.8" height="21.8" fill="none" stroke="#1731CF" stroke-width="2.9"/>
<rect x="436.4" y="979.7" width="21.8" height="21.8" fill="none" stroke="#1731CF" stroke-width="2.9"/>
<rect x="436.4" y="1016.9" width="21.8" height="21.8" fill="none" stroke="#1731CF" stroke-width="2.9"/>
<rect x="436.4" y="1039.5" width="21.8" height="21.8" fill="none" stroke="#1731CF" stroke-width="2.9"/>
<rect x="436.4" y="1042.1" width="21.8" height="21.8" fill="none" stroke="#1731CF" stroke-width="2.9"/>
<rect x="436.4" y="1054.1" width="21.8" height="21.8" fill="none" stroke="#1731CF" stroke-width="2.9"/>
<rect x="436.4" y="1066.1" width="21.8" height="21.8" fill="none" stroke="#1731CF" stroke-width="2.9"/>
<rect x="436.4" y="1069.1" width="21.8" height="21.8" fill="none" stroke="#1731CF" stroke-width="2.9"/>
<rect x="436.4" y="1078.1" width="21.8" height="21.8" fill="none" stroke="#1731CF" stroke-width="2.9"/>
<rect x="436.4" y="1086.1" width="21.8" height="21.8" fill="none" stroke="#1731CF" stroke-width="2.9"/>
<rect x="436.4" y="1106.1" width="21.8" height="21.8" fill="none" stroke="#1731CF" stroke-width="2.9"/>
<rect x="436.4" y="1114.1" width="21.8" height="21.8" fill="none" stroke="#1731CF" stroke-width="2.9"/>
<rect x="436.4" y="1130.1" width="21.8" height="21.8" fill="none" stroke="#1731CF" stroke-width="2.9"/>
<rect x="436.4" y="1192.1" width="21.8" height="21.8" fill="none" stroke="#1731CF" stroke-width="2.9"/>
<rect x="436.4" y="1211.6" width="21.8" height="21.8" fill="none" stroke="#1731CF" stroke-width="2.9"/>
<rect x="492.4" y="1051.1" width="21.8" height="21.8" fill="none" stroke="#1731CF" stroke-width="2.9"/>
<rect x="492.4" y="1074.1" width="21.8" height="21.8" fill="none" stroke="#1731CF" stroke-width="2.9"/>
<rect x="492.4" y="1081.5" width="21.8" height="21.8" fill="none" stroke="#1731CF" stroke-width="2.9"/>
<rect x="492.4" y="1101.7" width="21.8" height="21.8" fill="none" stroke="#1731CF" stroke-width="2.9"/>
<rect x="492.4" y="1124.4" width="21.8" height="21.8" fill="none" stroke="#1731CF" stroke-width="2.9"/>
<rect x="492.4" y="1144.6" width="21.8" height="21.8" fill="none" stroke="#1731CF" stroke-width="2.9"/>
<rect x="492.4" y="1151.1" width="21.8" height="21.8" fill="none" stroke="#1731CF" stroke-width="2.9"/>
<rect x="492.4" y="1181.1" width="21.8" height="21.8" fill="none" stroke="#1731CF" stroke-width="2.9"/>
<rect x="492.4" y="1191.1" width="21.8" height="21.8" fill="none" stroke="#1731CF" stroke-width="2.9"/>
<rect x="492.4" y="1204.1" width="21.8" height="21.8" fill="none" stroke="#1731CF" stroke-width="2.9"/>
<rect x="492.4" y="1256.1" width="21.8" height="21.8" fill="none" stroke="#1731CF" stroke-width="2.9"/>
<rect x="492.4" y="1259.1" width="21.8" height="21.8" fill="none" stroke="#1731CF" stroke-width="2.9"/>
<rect x="548.4" y="1091.4" width="21.8" height="21.8" fill="none" stroke="#1731CF" stroke-width="2.9"/>
<rect x="548.4" y="1099.7" width="21.8" height="21.8" fill="none" stroke="#1731CF" stroke-width="2.9"/>
<rect x="548.4" y="1106.7" width="21.8" height="21.8" fill="none" stroke="#1731CF" stroke-width="2.9"/>
<rect x="548.4" y="1120.6" width="21.8" height="21.8" fill="none" stroke="#1731CF" stroke-width="2.9"/>
<rect x="548.4" y="1134.1" width="21.8" height="21.8" fill="none" stroke="#1731CF" stroke-width="2.9"/>
<rect x="548.4" y="1148.5" width="21.8" height="21.8" fill="none" stroke="#1731CF" stroke-width="2.9"/>
<rect x="548.4" y="1154.1" width="21.8" height="21.8" fill="none" stroke="#1731CF" stroke-width="2.9"/>
<rect x="548.4" y="1166.6" width="21.8" height="21.8" fill="none" stroke="#1731CF" stroke-width="2.9"/>
<rect x="548.4" y="1203.1" width="21.8" height="21.8" fill="none" stroke="#1731CF" stroke-width="2.9"/>
<rect x="548.4" y="1215.1" width="21.8" height="21.8" fill="none" stroke="#1731CF" stroke-width="2.9"/>
<rect x="548.4" y="1221.1" width="21.8" height="21.8" fill="none" stroke="#1731CF" stroke-width="2.9"/>
<rect x="548.4" y="1257.1" width="21.8" height="21.8" fill="none" stroke="#1731CF" stroke-width="2.9"/>
<path d="M649.2,963.6 L659.7,984.6 L638.7,984.6 Z" fill="none" stroke="#23882F" stroke-width="1.8" stroke-linejoin="miter"/>
<path d="M649.2,979.2 L659.7,1000.2 L638.7,1000.2 Z" fill="none" stroke="#23882F" stroke-width="1.8" stroke-linejoin="miter"/>
<path d="M649.2,1042.8 L659.7,1063.8 L638.7,1063.8 Z" fill="none" stroke="#23882F" stroke-width="1.8" stroke-linejoin="miter"/>
<path d="M649.2,1045.3 L659.7,1066.3 L638.7,1066.3 Z" fill="none" stroke="#23882F" stroke-width="1.8" stroke-linejoin="miter"/>
<path d="M649.2,1048.2 L659.7,1069.2 L638.7,1069.2 Z" fill="none" stroke="#23882F" stroke-width="1.8" stroke-linejoin="miter"/>
<path d="M649.2,1051.2 L659.7,1072.2 L638.7,1072.2 Z" fill="none" stroke="#23882F" stroke-width="1.8" stroke-linejoin="miter"/>
<path d="M649.2,1070.1 L659.7,1091.1 L638.7,1091.1 Z" fill="none" stroke="#23882F" stroke-width="1.8" stroke-linejoin="miter"/>
<path d="M649.2,1078.9 L659.7,1099.9 L638.7,1099.9 Z" fill="none" stroke="#23882F" stroke-width="1.8" stroke-linejoin="miter"/>
<path d="M649.2,1102.3 L659.7,1123.3 L638.7,1123.3 Z" fill="none" stroke="#23882F" stroke-width="1.8" stroke-linejoin="miter"/>
<path d="M649.2,1179.2 L659.7,1200.2 L638.7,1200.2 Z" fill="none" stroke="#23882F" stroke-width="1.8" stroke-linejoin="miter"/>
<path d="M705.1,1024.0 L715.6,1045.0 L694.6,1045.0 Z" fill="none" stroke="#23882F" stroke-width="1.8" stroke-linejoin="miter"/>
<path d="M705.1,1096.0 L715.6,1117.0 L694.6,1117.0 Z" fill="none" stroke="#23882F" stroke-width="1.8" stroke-linejoin="miter"/>
<path d="M705.1,1117.0 L715.6,1138.0 L694.6,1138.0 Z" fill="none" stroke="#23882F" stroke-width="1.8" stroke-linejoin="miter"/>
<path d="M705.1,1120.7 L715.6,1141.7 L694.6,1141.7 Z" fill="none" stroke="#23882F" stroke-width="1.8" stroke-linejoin="miter"/>
<path d="M705.1,1124.4 L715.6,1145.4 L694.6,1145.4 Z" fill="none" stroke="#23882F" stroke-width="1.8" stroke-linejoin="miter"/>
<path d="M705.1,1165.7 L715.6,1186.7 L694.6,1186.7 Z" fill="none" stroke="#23882F" stroke-width="1.8" stroke-linejoin="miter"/>
<path d="M705.1,1179.2 L715.6,1200.2 L694.6,1200.2 Z" fill="none" stroke="#23882F" stroke-width="1.8" stroke-linejoin="miter"/>
<path d="M705.1,1182.0 L715.6,1203.0 L694.6,1203.0 Z" fill="none" stroke="#23882F" stroke-width="1.8" stroke-linejoin="miter"/>
<path d="M705.1,1202.9 L715.6,1223.9 L694.6,1223.9 Z" fill="none" stroke="#23882F" stroke-width="1.8" stroke-linejoin="miter"/>
<path d="M705.1,1230.3 L715.6,1251.3 L694.6,1251.3 Z" fill="none" stroke="#23882F" stroke-width="1.8" stroke-linejoin="miter"/>
<path d="M705.1,1265.2 L715.6,1286.2 L694.6,1286.2 Z" fill="none" stroke="#23882F" stroke-width="1.8" stroke-linejoin="miter"/>
<path d="M761.2,1052.4 L771.7,1073.4 L750.7,1073.4 Z" fill="none" stroke="#23882F" stroke-width="1.8" stroke-linejoin="miter"/>
<path d="M761.2,1132.7 L771.7,1153.7 L750.7,1153.7 Z" fill="none" stroke="#23882F" stroke-width="1.8" stroke-linejoin="miter"/>
<path d="M761.2,1136.1 L771.7,1157.1 L750.7,1157.1 Z" fill="none" stroke="#23882F" stroke-width="1.8" stroke-linejoin="miter"/>
<path d="M761.2,1150.1 L771.7,1171.1 L750.7,1171.1 Z" fill="none" stroke="#23882F" stroke-width="1.8" stroke-linejoin="miter"/>
<path d="M761.2,1180.3 L771.7,1201.3 L750.7,1201.3 Z" fill="none" stroke="#23882F" stroke-width="1.8" stroke-linejoin="miter"/>
<path d="M761.2,1194.3 L771.7,1215.3 L750.7,1215.3 Z" fill="none" stroke="#23882F" stroke-width="1.8" stroke-linejoin="miter"/>
<path d="M761.2,1228.0 L771.7,1249.0 L750.7,1249.0 Z" fill="none" stroke="#23882F" stroke-width="1.8" stroke-linejoin="miter"/>
<path d="M761.2,1244.3 L771.7,1265.3 L750.7,1265.3 Z" fill="none" stroke="#23882F" stroke-width="1.8" stroke-linejoin="miter"/>
<path d="M761.2,1259.4 L771.7,1280.4 L750.7,1280.4 Z" fill="none" stroke="#23882F" stroke-width="1.8" stroke-linejoin="miter"/>
<path d="M850.8,974.2 L861.8,985.2 L850.8,996.2 L839.8,985.2 Z" fill="none" stroke="#8540A8" stroke-width="1.8"/>
<path d="M850.8,979.5 L861.8,990.5 L850.8,1001.5 L839.8,990.5 Z" fill="none" stroke="#8540A8" stroke-width="1.8"/>
<path d="M850.8,986.1 L861.8,997.1 L850.8,1008.1 L839.8,997.1 Z" fill="none" stroke="#8540A8" stroke-width="1.8"/>
<path d="M850.8,995.4 L861.8,1006.4 L850.8,1017.4 L839.8,1006.4 Z" fill="none" stroke="#8540A8" stroke-width="1.8"/>
<path d="M850.8,999.4 L861.8,1010.4 L850.8,1021.4 L839.8,1010.4 Z" fill="none" stroke="#8540A8" stroke-width="1.8"/>
<path d="M850.8,1008.7 L861.8,1019.7 L850.8,1030.7 L839.8,1019.7 Z" fill="none" stroke="#8540A8" stroke-width="1.8"/>
<path d="M850.8,1076.4 L861.8,1087.4 L850.8,1098.4 L839.8,1087.4 Z" fill="none" stroke="#8540A8" stroke-width="1.8"/>
<path d="M850.8,1089.7 L861.8,1100.7 L850.8,1111.7 L839.8,1100.7 Z" fill="none" stroke="#8540A8" stroke-width="1.8"/>
<path d="M850.8,1120.2 L861.8,1131.2 L850.8,1142.2 L839.8,1131.2 Z" fill="none" stroke="#8540A8" stroke-width="1.8"/>
<path d="M850.8,1128.2 L861.8,1139.2 L850.8,1150.2 L839.8,1139.2 Z" fill="none" stroke="#8540A8" stroke-width="1.8"/>
<path d="M850.8,1207.3 L861.8,1218.3 L850.8,1229.3 L839.8,1218.3 Z" fill="none" stroke="#8540A8" stroke-width="1.8"/>
<path d="M850.8,1236.9 L861.8,1247.9 L850.8,1258.9 L839.8,1247.9 Z" fill="none" stroke="#8540A8" stroke-width="1.8"/>
<path d="M850.8,1302.3 L861.8,1313.3 L850.8,1324.3 L839.8,1313.3 Z" fill="none" stroke="#8540A8" stroke-width="1.8"/>
<path d="M906.8,1023.3 L917.8,1034.3 L906.8,1045.3 L895.8,1034.3 Z" fill="none" stroke="#8540A8" stroke-width="1.8"/>
<path d="M906.8,1047.2 L917.8,1058.2 L906.8,1069.2 L895.8,1058.2 Z" fill="none" stroke="#8540A8" stroke-width="1.8"/>
<path d="M906.8,1099.0 L917.8,1110.0 L906.8,1121.0 L895.8,1110.0 Z" fill="none" stroke="#8540A8" stroke-width="1.8"/>
<path d="M906.8,1104.3 L917.8,1115.3 L906.8,1126.3 L895.8,1115.3 Z" fill="none" stroke="#8540A8" stroke-width="1.8"/>
<path d="M906.8,1117.6 L917.8,1128.6 L906.8,1139.6 L895.8,1128.6 Z" fill="none" stroke="#8540A8" stroke-width="1.8"/>
<path d="M906.8,1128.2 L917.8,1139.2 L906.8,1150.2 L895.8,1139.2 Z" fill="none" stroke="#8540A8" stroke-width="1.8"/>
<path d="M906.8,1130.9 L917.8,1141.9 L906.8,1152.9 L895.8,1141.9 Z" fill="none" stroke="#8540A8" stroke-width="1.8"/>
<path d="M906.8,1140.2 L917.8,1151.2 L906.8,1162.2 L895.8,1151.2 Z" fill="none" stroke="#8540A8" stroke-width="1.8"/>
<path d="M906.8,1250.3 L917.8,1261.3 L906.8,1272.3 L895.8,1261.3 Z" fill="none" stroke="#8540A8" stroke-width="1.8"/>
<path d="M906.8,1265.7 L917.8,1276.7 L906.8,1287.7 L895.8,1276.7 Z" fill="none" stroke="#8540A8" stroke-width="1.8"/>
<path d="M906.8,1284.0 L917.8,1295.0 L906.8,1306.0 L895.8,1295.0 Z" fill="none" stroke="#8540A8" stroke-width="1.8"/>
<path d="M906.8,1324.0 L917.8,1335.0 L906.8,1346.0 L895.8,1335.0 Z" fill="none" stroke="#8540A8" stroke-width="1.8"/>
<path d="M906.8,1331.9 L917.8,1342.9 L906.8,1353.9 L895.8,1342.9 Z" fill="none" stroke="#8540A8" stroke-width="1.8"/>
<path d="M962.8,1048.5 L973.8,1059.5 L962.8,1070.5 L951.8,1059.5 Z" fill="none" stroke="#8540A8" stroke-width="1.8"/>
<path d="M962.8,1096.3 L973.8,1107.3 L962.8,1118.3 L951.8,1107.3 Z" fill="none" stroke="#8540A8" stroke-width="1.8"/>
<path d="M962.8,1100.2 L973.8,1111.2 L962.8,1122.2 L951.8,1111.2 Z" fill="none" stroke="#8540A8" stroke-width="1.8"/>
<path d="M962.8,1115.0 L973.8,1126.0 L962.8,1137.0 L951.8,1126.0 Z" fill="none" stroke="#8540A8" stroke-width="1.8"/>
<path d="M962.8,1120.2 L973.8,1131.2 L962.8,1142.2 L951.8,1131.2 Z" fill="none" stroke="#8540A8" stroke-width="1.8"/>
<path d="M962.8,1137.4 L973.8,1148.4 L962.8,1159.4 L951.8,1148.4 Z" fill="none" stroke="#8540A8" stroke-width="1.8"/>
<path d="M962.8,1164.0 L973.8,1175.0 L962.8,1186.0 L951.8,1175.0 Z" fill="none" stroke="#8540A8" stroke-width="1.8"/>
<path d="M962.8,1181.2 L973.8,1192.2 L962.8,1203.2 L951.8,1192.2 Z" fill="none" stroke="#8540A8" stroke-width="1.8"/>
<path d="M962.8,1273.5 L973.8,1284.5 L962.8,1295.5 L951.8,1284.5 Z" fill="none" stroke="#8540A8" stroke-width="1.8"/>
<path d="M962.8,1290.0 L973.8,1301.0 L962.8,1312.0 L951.8,1301.0 Z" fill="none" stroke="#8540A8" stroke-width="1.8"/>
<path d="M962.8,1297.9 L973.8,1308.9 L962.8,1319.9 L951.8,1308.9 Z" fill="none" stroke="#8540A8" stroke-width="1.8"/>
<path d="M962.8,1304.9 L973.8,1315.9 L962.8,1326.9 L951.8,1315.9 Z" fill="none" stroke="#8540A8" stroke-width="1.8"/>
<path d="M962.8,1311.0 L973.8,1322.0 L962.8,1333.0 L951.8,1322.0 Z" fill="none" stroke="#8540A8" stroke-width="1.8"/>
<line x1="250" y1="329.9" x2="250" y2="441.7" stroke="#000" stroke-width="3"/>
<line x1="236.5" y1="329.9" x2="263.5" y2="329.9" stroke="#000" stroke-width="2.6"/>
<line x1="236.5" y1="441.7" x2="263.5" y2="441.7" stroke="#000" stroke-width="2.6"/>
<line x1="306" y1="378.5" x2="306" y2="529.7" stroke="#000" stroke-width="3"/>
<line x1="292.5" y1="378.5" x2="319.5" y2="378.5" stroke="#000" stroke-width="2.6"/>
<line x1="292.5" y1="529.7" x2="319.5" y2="529.7" stroke="#000" stroke-width="2.6"/>
<line x1="362.3" y1="418.7" x2="362.3" y2="549.7" stroke="#000" stroke-width="3"/>
<line x1="348.8" y1="418.7" x2="375.8" y2="418.7" stroke="#000" stroke-width="2.6"/>
<line x1="348.8" y1="549.7" x2="375.8" y2="549.7" stroke="#000" stroke-width="2.6"/>
<line x1="451.8" y1="304.7" x2="451.8" y2="421.0" stroke="#000" stroke-width="3"/>
<line x1="438.3" y1="304.7" x2="465.3" y2="304.7" stroke="#000" stroke-width="2.6"/>
<line x1="438.3" y1="421.0" x2="465.3" y2="421.0" stroke="#000" stroke-width="2.6"/>
<line x1="508" y1="393.8" x2="508" y2="483.7" stroke="#000" stroke-width="3"/>
<line x1="494.5" y1="393.8" x2="521.5" y2="393.8" stroke="#000" stroke-width="2.6"/>
<line x1="494.5" y1="483.7" x2="521.5" y2="483.7" stroke="#000" stroke-width="2.6"/>
<line x1="564.1" y1="405.6" x2="564.1" y2="493.9" stroke="#000" stroke-width="3"/>
<line x1="550.6" y1="405.6" x2="577.6" y2="405.6" stroke="#000" stroke-width="2.6"/>
<line x1="550.6" y1="493.9" x2="577.6" y2="493.9" stroke="#000" stroke-width="2.6"/>
<line x1="653.4" y1="312.3" x2="653.4" y2="413.0" stroke="#000" stroke-width="3"/>
<line x1="639.9" y1="312.3" x2="666.9" y2="312.3" stroke="#000" stroke-width="2.6"/>
<line x1="639.9" y1="413.0" x2="666.9" y2="413.0" stroke="#000" stroke-width="2.6"/>
<line x1="709.8" y1="405.6" x2="709.8" y2="505.2" stroke="#000" stroke-width="3"/>
<line x1="696.3" y1="405.6" x2="723.3" y2="405.6" stroke="#000" stroke-width="2.6"/>
<line x1="696.3" y1="505.2" x2="723.3" y2="505.2" stroke="#000" stroke-width="2.6"/>
<line x1="765.9" y1="437.6" x2="765.9" y2="525.3" stroke="#000" stroke-width="3"/>
<line x1="752.4" y1="437.6" x2="779.4" y2="437.6" stroke="#000" stroke-width="2.6"/>
<line x1="752.4" y1="525.3" x2="779.4" y2="525.3" stroke="#000" stroke-width="2.6"/>
<line x1="855.6" y1="307.2" x2="855.6" y2="444.5" stroke="#000" stroke-width="3"/>
<line x1="842.1" y1="307.2" x2="869.1" y2="307.2" stroke="#000" stroke-width="2.6"/>
<line x1="842.1" y1="444.5" x2="869.1" y2="444.5" stroke="#000" stroke-width="2.6"/>
<line x1="911.6" y1="386.4" x2="911.6" y2="542.8" stroke="#000" stroke-width="3"/>
<line x1="898.1" y1="386.4" x2="925.1" y2="386.4" stroke="#000" stroke-width="2.6"/>
<line x1="898.1" y1="542.8" x2="925.1" y2="542.8" stroke="#000" stroke-width="2.6"/>
<line x1="967.5" y1="390.9" x2="967.5" y2="579.6" stroke="#000" stroke-width="3"/>
<line x1="954.0" y1="390.9" x2="981.0" y2="390.9" stroke="#000" stroke-width="2.6"/>
<line x1="954.0" y1="579.6" x2="981.0" y2="579.6" stroke="#000" stroke-width="2.6"/>
<line x1="245.4" y1="1045.9" x2="245.4" y2="1140.5" stroke="#000" stroke-width="3"/>
<line x1="231.9" y1="1045.9" x2="258.9" y2="1045.9" stroke="#000" stroke-width="2.6"/>
<line x1="231.9" y1="1140.5" x2="258.9" y2="1140.5" stroke="#000" stroke-width="2.6"/>
<line x1="301.5" y1="1097.7" x2="301.5" y2="1238.8" stroke="#000" stroke-width="3"/>
<line x1="288.0" y1="1097.7" x2="315.0" y2="1097.7" stroke="#000" stroke-width="2.6"/>
<line x1="288.0" y1="1238.8" x2="315.0" y2="1238.8" stroke="#000" stroke-width="2.6"/>
<line x1="357.5" y1="1135.0" x2="357.5" y2="1277.7" stroke="#000" stroke-width="3"/>
<line x1="344.0" y1="1135.0" x2="371.0" y2="1135.0" stroke="#000" stroke-width="2.6"/>
<line x1="344.0" y1="1277.7" x2="371.0" y2="1277.7" stroke="#000" stroke-width="2.6"/>
<line x1="447.3" y1="1014.6" x2="447.3" y2="1129.4" stroke="#000" stroke-width="3"/>
<line x1="433.8" y1="1014.6" x2="460.8" y2="1014.6" stroke="#000" stroke-width="2.6"/>
<line x1="433.8" y1="1129.4" x2="460.8" y2="1129.4" stroke="#000" stroke-width="2.6"/>
<line x1="503.3" y1="1104.5" x2="503.3" y2="1208.7" stroke="#000" stroke-width="3"/>
<line x1="489.8" y1="1104.5" x2="516.8" y2="1104.5" stroke="#000" stroke-width="2.6"/>
<line x1="489.8" y1="1208.7" x2="516.8" y2="1208.7" stroke="#000" stroke-width="2.6"/>
<line x1="559.3" y1="1124.8" x2="559.3" y2="1221.1" stroke="#000" stroke-width="3"/>
<line x1="545.8" y1="1124.8" x2="572.8" y2="1124.8" stroke="#000" stroke-width="2.6"/>
<line x1="545.8" y1="1221.1" x2="572.8" y2="1221.1" stroke="#000" stroke-width="2.6"/>
<line x1="649.2" y1="1027.9" x2="649.2" y2="1123.2" stroke="#000" stroke-width="3"/>
<line x1="635.7" y1="1027.9" x2="662.7" y2="1027.9" stroke="#000" stroke-width="2.6"/>
<line x1="635.7" y1="1123.2" x2="662.7" y2="1123.2" stroke="#000" stroke-width="2.6"/>
<line x1="705.1" y1="1120.6" x2="705.1" y2="1218.0" stroke="#000" stroke-width="3"/>
<line x1="691.6" y1="1120.6" x2="718.6" y2="1120.6" stroke="#000" stroke-width="2.6"/>
<line x1="691.6" y1="1218.0" x2="718.6" y2="1218.0" stroke="#000" stroke-width="2.6"/>
<line x1="761.2" y1="1143.0" x2="761.2" y2="1245.8" stroke="#000" stroke-width="3"/>
<line x1="747.7" y1="1143.0" x2="774.7" y2="1143.0" stroke="#000" stroke-width="2.6"/>
<line x1="747.7" y1="1245.8" x2="774.7" y2="1245.8" stroke="#000" stroke-width="2.6"/>
<line x1="850.8" y1="1001.9" x2="850.8" y2="1149.2" stroke="#000" stroke-width="3"/>
<line x1="837.3" y1="1001.9" x2="864.3" y2="1001.9" stroke="#000" stroke-width="2.6"/>
<line x1="837.3" y1="1149.2" x2="864.3" y2="1149.2" stroke="#000" stroke-width="2.6"/>
<line x1="906.8" y1="1111.2" x2="906.8" y2="1281.9" stroke="#000" stroke-width="3"/>
<line x1="893.3" y1="1111.2" x2="920.3" y2="1111.2" stroke="#000" stroke-width="2.6"/>
<line x1="893.3" y1="1281.9" x2="920.3" y2="1281.9" stroke="#000" stroke-width="2.6"/>
<line x1="962.8" y1="1117.3" x2="962.8" y2="1304.5" stroke="#000" stroke-width="3"/>
<line x1="949.3" y1="1117.3" x2="976.3" y2="1117.3" stroke="#000" stroke-width="2.6"/>
<line x1="949.3" y1="1304.5" x2="976.3" y2="1304.5" stroke="#000" stroke-width="2.6"/>
<path d="M250.0,268.5 L306.0,336.4" fill="none" stroke="#111" stroke-width="1.5" stroke-dasharray="1.5 1.2"/>
<path d="M250.0,320.0 L306.0,350.0" fill="none" stroke="#111" stroke-width="1.5" stroke-dasharray="1.5 1.2"/>
<path d="M250.0,333.0 L306.0,365.3" fill="none" stroke="#111" stroke-width="1.5" stroke-dasharray="1.5 1.2"/>
<path d="M250.0,341.0 L306.0,396.2" fill="none" stroke="#111" stroke-width="1.5" stroke-dasharray="1.5 1.2"/>
<path d="M250.0,369.5 L306.0,438.5" fill="none" stroke="#111" stroke-width="1.5" stroke-dasharray="1.5 1.2"/>
<path d="M250.0,382.0 L306.0,427.6" fill="none" stroke="#111" stroke-width="1.5" stroke-dasharray="1.5 1.2"/>
<path d="M250.0,413.0 L306.0,477.0" fill="none" stroke="#111" stroke-width="1.5" stroke-dasharray="1.5 1.2"/>
<path d="M250.0,418.0 L306.0,481.0" fill="none" stroke="#111" stroke-width="1.5" stroke-dasharray="1.5 1.2"/>
<path d="M250.0,435.0 L306.0,526.0" fill="none" stroke="#111" stroke-width="1.5" stroke-dasharray="1.5 1.2"/>
<path d="M250.0,437.5 L306.0,531.0" fill="none" stroke="#111" stroke-width="1.5" stroke-dasharray="1.5 1.2"/>
<path d="M250.0,440.0 L306.0,534.0" fill="none" stroke="#111" stroke-width="1.5" stroke-dasharray="1.5 1.2"/>
<path d="M250.0,454.0 L306.0,594.0" fill="none" stroke="#111" stroke-width="1.5" stroke-dasharray="1.5 1.2"/>
<path d="M250.0,496.5 L306.0,567.0" fill="none" stroke="#111" stroke-width="1.5" stroke-dasharray="1.5 1.2"/>
<path d="M250.0,542.5 L362.3,546.0" fill="none" stroke="#111" stroke-width="1.5" stroke-dasharray="1.5 1.2"/>
<path d="M306.0,336.4 L362.3,353.3" fill="none" stroke="#111" stroke-width="1.5" stroke-dasharray="1.5 1.2"/>
<path d="M306.0,350.0 L362.3,392.8" fill="none" stroke="#111" stroke-width="1.5" stroke-dasharray="1.5 1.2"/>
<path d="M306.0,365.3 L362.3,417.0" fill="none" stroke="#111" stroke-width="1.5" stroke-dasharray="1.5 1.2"/>
<path d="M306.0,396.2 L362.3,421.0" fill="none" stroke="#111" stroke-width="1.5" stroke-dasharray="1.5 1.2"/>
<path d="M306.0,427.6 L362.3,454.0" fill="none" stroke="#111" stroke-width="1.5" stroke-dasharray="1.5 1.2"/>
<path d="M306.0,438.5 L362.3,483.0" fill="none" stroke="#111" stroke-width="1.5" stroke-dasharray="1.5 1.2"/>
<path d="M306.0,477.0 L362.3,488.0" fill="none" stroke="#111" stroke-width="1.5" stroke-dasharray="1.5 1.2"/>
<path d="M306.0,481.0 L362.3,500.0" fill="none" stroke="#111" stroke-width="1.5" stroke-dasharray="1.5 1.2"/>
<path d="M306.0,485.0 L362.3,488.0" fill="none" stroke="#111" stroke-width="1.5" stroke-dasharray="1.5 1.2"/>
<path d="M306.0,526.0 L362.3,556.0" fill="none" stroke="#111" stroke-width="1.5" stroke-dasharray="1.5 1.2"/>
<path d="M306.0,531.0 L362.3,515.0" fill="none" stroke="#111" stroke-width="1.5" stroke-dasharray="1.5 1.2"/>
<path d="M306.0,534.0 L362.3,551.0" fill="none" stroke="#111" stroke-width="1.5" stroke-dasharray="1.5 1.2"/>
<path d="M306.0,567.0 L362.3,564.0" fill="none" stroke="#111" stroke-width="1.5" stroke-dasharray="1.5 1.2"/>
<path d="M306.0,594.0 L362.3,561.0" fill="none" stroke="#111" stroke-width="1.5" stroke-dasharray="1.5 1.2"/>
<path d="M451.8,242.0 L508.0,452.7" fill="none" stroke="#111" stroke-width="1.5" stroke-dasharray="1.5 1.2"/>
<path d="M451.8,274.0 L508.0,346.4" fill="none" stroke="#111" stroke-width="1.5" stroke-dasharray="1.5 1.2"/>
<path d="M451.8,297.0 L508.0,403.0" fill="none" stroke="#111" stroke-width="1.5" stroke-dasharray="1.5 1.2"/>
<path d="M451.8,308.6 L508.0,353.0" fill="none" stroke="#111" stroke-width="1.5" stroke-dasharray="1.5 1.2"/>
<path d="M451.8,320.6 L508.0,360.0" fill="none" stroke="#111" stroke-width="1.5" stroke-dasharray="1.5 1.2"/>
<path d="M451.8,330.5 L508.0,388.0" fill="none" stroke="#111" stroke-width="1.5" stroke-dasharray="1.5 1.2"/>
<path d="M451.8,342.5 L508.0,401.0" fill="none" stroke="#111" stroke-width="1.5" stroke-dasharray="1.5 1.2"/>
<path d="M451.8,370.0 L508.0,414.0" fill="none" stroke="#111" stroke-width="1.5" stroke-dasharray="1.5 1.2"/>
<path d="M451.8,375.0 L508.0,458.7" fill="none" stroke="#111" stroke-width="1.5" stroke-dasharray="1.5 1.2"/>
<path d="M451.8,379.5 L508.0,465.0" fill="none" stroke="#111" stroke-width="1.5" stroke-dasharray="1.5 1.2"/>
<path d="M451.8,402.0 L508.0,471.7" fill="none" stroke="#111" stroke-width="1.5" stroke-dasharray="1.5 1.2"/>
<path d="M451.8,406.5 L508.0,477.3" fill="none" stroke="#111" stroke-width="1.5" stroke-dasharray="1.5 1.2"/>
<path d="M451.8,420.5 L508.0,483.0" fill="none" stroke="#111" stroke-width="1.5" stroke-dasharray="1.5 1.2"/>
<path d="M451.8,426.0 L508.0,489.4" fill="none" stroke="#111" stroke-width="1.5" stroke-dasharray="1.5 1.2"/>
<path d="M451.8,482.3 L508.0,546.5" fill="none" stroke="#111" stroke-width="1.5" stroke-dasharray="1.5 1.2"/>
<path d="M451.8,494.3 L508.0,548.5" fill="none" stroke="#111" stroke-width="1.5" stroke-dasharray="1.5 1.2"/>
<path d="M508.0,346.4 L564.1,374.3" fill="none" stroke="#111" stroke-width="1.5" stroke-dasharray="1.5 1.2"/>
<path d="M508.0,353.0 L564.1,396.3" fill="none" stroke="#111" stroke-width="1.5" stroke-dasharray="1.5 1.2"/>
<path d="M508.0,360.0 L564.1,400.0" fill="none" stroke="#111" stroke-width="1.5" stroke-dasharray="1.5 1.2"/>
<path d="M508.0,388.0 L564.1,412.3" fill="none" stroke="#111" stroke-width="1.5" stroke-dasharray="1.5 1.2"/>
<path d="M508.0,401.0 L564.1,416.0" fill="none" stroke="#111" stroke-width="1.5" stroke-dasharray="1.5 1.2"/>
<path d="M508.0,403.0 L564.1,421.0" fill="none" stroke="#111" stroke-width="1.5" stroke-dasharray="1.5 1.2"/>
<path d="M508.0,414.0 L564.1,430.0" fill="none" stroke="#111" stroke-width="1.5" stroke-dasharray="1.5 1.2"/>
<path d="M508.0,452.7 L564.1,457.6" fill="none" stroke="#111" stroke-width="1.5" stroke-dasharray="1.5 1.2"/>
<path d="M508.0,458.7 L564.1,440.0" fill="none" stroke="#111" stroke-width="1.5" stroke-dasharray="1.5 1.2"/>
<path d="M508.0,465.0 L564.1,445.0" fill="none" stroke="#111" stroke-width="1.5" stroke-dasharray="1.5 1.2"/>
<path d="M508.0,471.7 L564.1,466.0" fill="none" stroke="#111" stroke-width="1.5" stroke-dasharray="1.5 1.2"/>
<path d="M508.0,477.3 L564.1,478.4" fill="none" stroke="#111" stroke-width="1.5" stroke-dasharray="1.5 1.2"/>
<path d="M508.0,483.0 L564.1,485.3" fill="none" stroke="#111" stroke-width="1.5" stroke-dasharray="1.5 1.2"/>
<path d="M508.0,483.0 L564.1,514.0" fill="none" stroke="#111" stroke-width="1.5" stroke-dasharray="1.5 1.2"/>
<path d="M508.0,489.4 L564.1,503.4" fill="none" stroke="#111" stroke-width="1.5" stroke-dasharray="1.5 1.2"/>
<path d="M508.0,546.5 L564.1,538.8" fill="none" stroke="#111" stroke-width="1.5" stroke-dasharray="1.5 1.2"/>
<path d="M508.0,548.5 L564.1,522.8" fill="none" stroke="#111" stroke-width="1.5" stroke-dasharray="1.5 1.2"/>
<path d="M653.4,276.3 L709.8,340.8" fill="none" stroke="#111" stroke-width="1.5" stroke-dasharray="1.5 1.2"/>
<path d="M653.4,296.6 L709.8,410.1" fill="none" stroke="#111" stroke-width="1.5" stroke-dasharray="1.5 1.2"/>
<path d="M653.4,321.8 L709.8,402.1" fill="none" stroke="#111" stroke-width="1.5" stroke-dasharray="1.5 1.2"/>
<path d="M653.4,343.8 L709.8,406.9" fill="none" stroke="#111" stroke-width="1.5" stroke-dasharray="1.5 1.2"/>
<path d="M653.4,369.0 L709.8,413.3" fill="none" stroke="#111" stroke-width="1.5" stroke-dasharray="1.5 1.2"/>
<path d="M653.4,381.0 L709.8,416.5" fill="none" stroke="#111" stroke-width="1.5" stroke-dasharray="1.5 1.2"/>
<path d="M653.4,394.2 L709.8,501.7" fill="none" stroke="#111" stroke-width="1.5" stroke-dasharray="1.5 1.2"/>
<path d="M653.4,405.2 L709.8,528.8" fill="none" stroke="#111" stroke-width="1.5" stroke-dasharray="1.5 1.2"/>
<path d="M653.4,462.0 L709.8,472.2" fill="none" stroke="#111" stroke-width="1.5" stroke-dasharray="1.5 1.2"/>
<path d="M653.4,491.0 L709.8,542.4" fill="none" stroke="#111" stroke-width="1.5" stroke-dasharray="1.5 1.2"/>
<path d="M709.8,340.8 L765.9,369.3" fill="none" stroke="#111" stroke-width="1.5" stroke-dasharray="1.5 1.2"/>
<path d="M709.8,402.1 L765.9,435.8" fill="none" stroke="#111" stroke-width="1.5" stroke-dasharray="1.5 1.2"/>
<path d="M709.8,406.9 L765.9,445.3" fill="none" stroke="#111" stroke-width="1.5" stroke-dasharray="1.5 1.2"/>
<path d="M709.8,410.1 L765.9,440.9" fill="none" stroke="#111" stroke-width="1.5" stroke-dasharray="1.5 1.2"/>
<path d="M709.8,413.3 L765.9,449.7" fill="none" stroke="#111" stroke-width="1.5" stroke-dasharray="1.5 1.2"/>
<path d="M709.8,416.5 L765.9,452.5" fill="none" stroke="#111" stroke-width="1.5" stroke-dasharray="1.5 1.2"/>
<path d="M709.8,429.2 L765.9,516.9" fill="none" stroke="#111" stroke-width="1.5" stroke-dasharray="1.5 1.2"/>
<path d="M709.8,472.2 L765.9,516.9" fill="none" stroke="#111" stroke-width="1.5" stroke-dasharray="1.5 1.2"/>
<path d="M709.8,501.7 L765.9,539.5" fill="none" stroke="#111" stroke-width="1.5" stroke-dasharray="1.5 1.2"/>
<path d="M709.8,528.8 L765.9,552.7" fill="none" stroke="#111" stroke-width="1.5" stroke-dasharray="1.5 1.2"/>
<path d="M709.8,542.4 L765.9,552.7" fill="none" stroke="#111" stroke-width="1.5" stroke-dasharray="1.5 1.2"/>
<path d="M855.6,251.7 L911.6,370.0" fill="none" stroke="#111" stroke-width="1.5" stroke-dasharray="1.5 1.2"/>
<path d="M855.6,300.9 L911.6,326.5" fill="none" stroke="#111" stroke-width="1.5" stroke-dasharray="1.5 1.2"/>
<path d="M855.6,309.3 L911.6,333.4" fill="none" stroke="#111" stroke-width="1.5" stroke-dasharray="1.5 1.2"/>
<path d="M855.6,313.3 L911.6,434.7" fill="none" stroke="#111" stroke-width="1.5" stroke-dasharray="1.5 1.2"/>
<path d="M855.6,317.2 L911.6,440.0" fill="none" stroke="#111" stroke-width="1.5" stroke-dasharray="1.5 1.2"/>
<path d="M855.6,334.2 L911.6,443.2" fill="none" stroke="#111" stroke-width="1.5" stroke-dasharray="1.5 1.2"/>
<path d="M855.6,355.6 L911.6,393.9" fill="none" stroke="#111" stroke-width="1.5" stroke-dasharray="1.5 1.2"/>
<path d="M855.6,386.7 L911.6,499.8" fill="none" stroke="#111" stroke-width="1.5" stroke-dasharray="1.5 1.2"/>
<path d="M855.6,423.9 L911.6,448.5" fill="none" stroke="#111" stroke-width="1.5" stroke-dasharray="1.5 1.2"/>
<path d="M855.6,433.5 L911.6,405.5" fill="none" stroke="#111" stroke-width="1.5" stroke-dasharray="1.5 1.2"/>
<path d="M855.6,506.5 L911.6,584.5" fill="none" stroke="#111" stroke-width="1.5" stroke-dasharray="1.5 1.2"/>
<path d="M855.6,534.7 L911.6,596.6" fill="none" stroke="#111" stroke-width="1.5" stroke-dasharray="1.5 1.2"/>
<path d="M855.6,564.3 L911.6,602.0" fill="none" stroke="#111" stroke-width="1.5" stroke-dasharray="1.5 1.2"/>
<path d="M911.6,326.5 L967.5,360.0" fill="none" stroke="#111" stroke-width="1.5" stroke-dasharray="1.5 1.2"/>
<path d="M911.6,333.4 L967.5,377.5" fill="none" stroke="#111" stroke-width="1.5" stroke-dasharray="1.5 1.2"/>
<path d="M911.6,370.0 L967.5,380.2" fill="none" stroke="#111" stroke-width="1.5" stroke-dasharray="1.5 1.2"/>
<path d="M911.6,393.9 L967.5,396.3" fill="none" stroke="#111" stroke-width="1.5" stroke-dasharray="1.5 1.2"/>
<path d="M911.6,405.5 L967.5,434.0" fill="none" stroke="#111" stroke-width="1.5" stroke-dasharray="1.5 1.2"/>
<path d="M911.6,434.7 L967.5,420.5" fill="none" stroke="#111" stroke-width="1.5" stroke-dasharray="1.5 1.2"/>
<path d="M911.6,440.0 L967.5,425.9" fill="none" stroke="#111" stroke-width="1.5" stroke-dasharray="1.5 1.2"/>
<path d="M911.6,443.2 L967.5,472.9" fill="none" stroke="#111" stroke-width="1.5" stroke-dasharray="1.5 1.2"/>
<path d="M911.6,448.5 L967.5,483.7" fill="none" stroke="#111" stroke-width="1.5" stroke-dasharray="1.5 1.2"/>
<path d="M911.6,499.8 L967.5,541.5" fill="none" stroke="#111" stroke-width="1.5" stroke-dasharray="1.5 1.2"/>
<path d="M911.6,533.4 L967.5,575.0" fill="none" stroke="#111" stroke-width="1.5" stroke-dasharray="1.5 1.2"/>
<path d="M911.6,584.5 L967.5,607.3" fill="none" stroke="#111" stroke-width="1.5" stroke-dasharray="1.5 1.2"/>
<path d="M911.6,596.6 L967.5,589.8" fill="none" stroke="#111" stroke-width="1.5" stroke-dasharray="1.5 1.2"/>
<path d="M911.6,602.0 L967.5,624.8" fill="none" stroke="#111" stroke-width="1.5" stroke-dasharray="1.5 1.2"/>
<path d="M245.4,961.5 L301.5,1040.2" fill="none" stroke="#111" stroke-width="1.5" stroke-dasharray="1.5 1.2"/>
<path d="M245.4,1025.9 L301.5,1051.8" fill="none" stroke="#111" stroke-width="1.5" stroke-dasharray="1.5 1.2"/>
<path d="M245.4,1028.0 L301.5,1081.0" fill="none" stroke="#111" stroke-width="1.5" stroke-dasharray="1.5 1.2"/>
<path d="M245.4,1053.2 L301.5,1139.0" fill="none" stroke="#111" stroke-width="1.5" stroke-dasharray="1.5 1.2"/>
<path d="M245.4,1061.0 L301.5,1121.4" fill="none" stroke="#111" stroke-width="1.5" stroke-dasharray="1.5 1.2"/>
<path d="M245.4,1065.0 L301.5,1142.0" fill="none" stroke="#111" stroke-width="1.5" stroke-dasharray="1.5 1.2"/>
<path d="M245.4,1088.3 L301.5,1184.5" fill="none" stroke="#111" stroke-width="1.5" stroke-dasharray="1.5 1.2"/>
<path d="M245.4,1110.3 L301.5,1186.6" fill="none" stroke="#111" stroke-width="1.5" stroke-dasharray="1.5 1.2"/>
<path d="M245.4,1115.7 L301.5,1241.0" fill="none" stroke="#111" stroke-width="1.5" stroke-dasharray="1.5 1.2"/>
<path d="M245.4,1131.0 L301.5,1299.5" fill="none" stroke="#111" stroke-width="1.5" stroke-dasharray="1.5 1.2"/>
<path d="M245.4,1134.4 L301.5,1302.7" fill="none" stroke="#111" stroke-width="1.5" stroke-dasharray="1.5 1.2"/>
<path d="M245.4,1158.5 L301.5,1238.3" fill="none" stroke="#111" stroke-width="1.5" stroke-dasharray="1.5 1.2"/>
<path d="M245.4,1217.6 L301.5,1296.3" fill="none" stroke="#111" stroke-width="1.5" stroke-dasharray="1.5 1.2"/>
<path d="M245.4,1278.2 L357.5,1287.8" fill="none" stroke="#111" stroke-width="1.5" stroke-dasharray="1.5 1.2"/>
<path d="M301.5,1040.2 L357.5,1057.0" fill="none" stroke="#111" stroke-width="1.5" stroke-dasharray="1.5 1.2"/>
<path d="M301.5,1051.8 L357.5,1109.0" fill="none" stroke="#111" stroke-width="1.5" stroke-dasharray="1.5 1.2"/>
<path d="M301.5,1081.0 L357.5,1165.3" fill="none" stroke="#111" stroke-width="1.5" stroke-dasharray="1.5 1.2"/>
<path d="M301.5,1121.4 L357.5,1135.0" fill="none" stroke="#111" stroke-width="1.5" stroke-dasharray="1.5 1.2"/>
<path d="M301.5,1139.0 L357.5,1174.8" fill="none" stroke="#111" stroke-width="1.5" stroke-dasharray="1.5 1.2"/>
<path d="M301.5,1142.0 L357.5,1182.3" fill="none" stroke="#111" stroke-width="1.5" stroke-dasharray="1.5 1.2"/>
<path d="M301.5,1184.5 L357.5,1186.5" fill="none" stroke="#111" stroke-width="1.5" stroke-dasharray="1.5 1.2"/>
<path d="M301.5,1186.6 L357.5,1211.7" fill="none" stroke="#111" stroke-width="1.5" stroke-dasharray="1.5 1.2"/>
<path d="M301.5,1238.3 L357.5,1229.2" fill="none" stroke="#111" stroke-width="1.5" stroke-dasharray="1.5 1.2"/>
<path d="M301.5,1241.0 L357.5,1276.0" fill="none" stroke="#111" stroke-width="1.5" stroke-dasharray="1.5 1.2"/>
<path d="M301.5,1296.3 L357.5,1280.3" fill="none" stroke="#111" stroke-width="1.5" stroke-dasharray="1.5 1.2"/>
<path d="M301.5,1299.5 L357.5,1280.3" fill="none" stroke="#111" stroke-width="1.5" stroke-dasharray="1.5 1.2"/>
<path d="M301.5,1302.7 L357.5,1307.0" fill="none" stroke="#111" stroke-width="1.5" stroke-dasharray="1.5 1.2"/>
<path d="M447.3,922.8 L503.3,1062.0" fill="none" stroke="#111" stroke-width="1.5" stroke-dasharray="1.5 1.2"/>
<path d="M447.3,976.6 L503.3,1085.0" fill="none" stroke="#111" stroke-width="1.5" stroke-dasharray="1.5 1.2"/>
<path d="M447.3,990.6 L503.3,1085.0" fill="none" stroke="#111" stroke-width="1.5" stroke-dasharray="1.5 1.2"/>
<path d="M447.3,1027.8 L503.3,1092.4" fill="none" stroke="#111" stroke-width="1.5" stroke-dasharray="1.5 1.2"/>
<path d="M447.3,1050.4 L503.3,1112.6" fill="none" stroke="#111" stroke-width="1.5" stroke-dasharray="1.5 1.2"/>
<path d="M447.3,1053.0 L503.3,1135.3" fill="none" stroke="#111" stroke-width="1.5" stroke-dasharray="1.5 1.2"/>
<path d="M447.3,1065.0 L503.3,1135.3" fill="none" stroke="#111" stroke-width="1.5" stroke-dasharray="1.5 1.2"/>
<path d="M447.3,1077.0 L503.3,1155.5" fill="none" stroke="#111" stroke-width="1.5" stroke-dasharray="1.5 1.2"/>
<path d="M447.3,1080.0 L503.3,1162.0" fill="none" stroke="#111" stroke-width="1.5" stroke-dasharray="1.5 1.2"/>
<path d="M447.3,1089.0 L503.3,1192.0" fill="none" stroke="#111" stroke-width="1.5" stroke-dasharray="1.5 1.2"/>
<path d="M447.3,1097.0 L503.3,1192.0" fill="none" stroke="#111" stroke-width="1.5" stroke-dasharray="1.5 1.2"/>
<path d="M447.3,1117.0 L503.3,1202.0" fill="none" stroke="#111" stroke-width="1.5" stroke-dasharray="1.5 1.2"/>
<path d="M447.3,1125.0 L503.3,1215.0" fill="none" stroke="#111" stroke-width="1.5" stroke-dasharray="1.5 1.2"/>
<path d="M447.3,1141.0 L503.3,1267.0" fill="none" stroke="#111" stroke-width="1.5" stroke-dasharray="1.5 1.2"/>
<path d="M447.3,1203.0 L503.3,1267.0" fill="none" stroke="#111" stroke-width="1.5" stroke-dasharray="1.5 1.2"/>
<path d="M447.3,1222.5 L503.3,1270.0" fill="none" stroke="#111" stroke-width="1.5" stroke-dasharray="1.5 1.2"/>
<path d="M503.3,1062.0 L559.3,1102.3" fill="none" stroke="#111" stroke-width="1.5" stroke-dasharray="1.5 1.2"/>
<path d="M503.3,1085.0 L559.3,1110.6" fill="none" stroke="#111" stroke-width="1.5" stroke-dasharray="1.5 1.2"/>
<path d="M503.3,1092.4 L559.3,1117.6" fill="none" stroke="#111" stroke-width="1.5" stroke-dasharray="1.5 1.2"/>
<path d="M503.3,1112.6 L559.3,1131.5" fill="none" stroke="#111" stroke-width="1.5" stroke-dasharray="1.5 1.2"/>
<path d="M503.3,1135.3 L559.3,1145.0" fill="none" stroke="#111" stroke-width="1.5" stroke-dasharray="1.5 1.2"/>
<path d="M503.3,1155.5 L559.3,1159.4" fill="none" stroke="#111" stroke-width="1.5" stroke-dasharray="1.5 1.2"/>
<path d="M503.3,1162.0 L559.3,1165.0" fill="none" stroke="#111" stroke-width="1.5" stroke-dasharray="1.5 1.2"/>
<path d="M503.3,1192.0 L559.3,1177.5" fill="none" stroke="#111" stroke-width="1.5" stroke-dasharray="1.5 1.2"/>
<path d="M503.3,1202.0 L559.3,1214.0" fill="none" stroke="#111" stroke-width="1.5" stroke-dasharray="1.5 1.2"/>
<path d="M503.3,1215.0 L559.3,1226.0" fill="none" stroke="#111" stroke-width="1.5" stroke-dasharray="1.5 1.2"/>
<path d="M503.3,1267.0 L559.3,1232.0" fill="none" stroke="#111" stroke-width="1.5" stroke-dasharray="1.5 1.2"/>
<path d="M503.3,1270.0 L559.3,1268.0" fill="none" stroke="#111" stroke-width="1.5" stroke-dasharray="1.5 1.2"/>
<path d="M649.2,975.6 L705.1,1036.0" fill="none" stroke="#111" stroke-width="1.5" stroke-dasharray="1.5 1.2"/>
<path d="M649.2,991.2 L705.1,1129.0" fill="none" stroke="#111" stroke-width="1.5" stroke-dasharray="1.5 1.2"/>
<path d="M649.2,1054.8 L705.1,1108.0" fill="none" stroke="#111" stroke-width="1.5" stroke-dasharray="1.5 1.2"/>
<path d="M649.2,1057.3 L705.1,1132.7" fill="none" stroke="#111" stroke-width="1.5" stroke-dasharray="1.5 1.2"/>
<path d="M649.2,1060.2 L705.1,1136.4" fill="none" stroke="#111" stroke-width="1.5" stroke-dasharray="1.5 1.2"/>
<path d="M649.2,1063.2 L705.1,1177.7" fill="none" stroke="#111" stroke-width="1.5" stroke-dasharray="1.5 1.2"/>
<path d="M649.2,1082.1 L705.1,1191.2" fill="none" stroke="#111" stroke-width="1.5" stroke-dasharray="1.5 1.2"/>
<path d="M649.2,1090.9 L705.1,1194.0" fill="none" stroke="#111" stroke-width="1.5" stroke-dasharray="1.5 1.2"/>
<path d="M649.2,1114.3 L705.1,1277.2" fill="none" stroke="#111" stroke-width="1.5" stroke-dasharray="1.5 1.2"/>
<path d="M649.2,1191.2 L705.1,1214.9" fill="none" stroke="#111" stroke-width="1.5" stroke-dasharray="1.5 1.2"/>
<path d="M705.1,1036.0 L761.2,1064.4" fill="none" stroke="#111" stroke-width="1.5" stroke-dasharray="1.5 1.2"/>
<path d="M705.1,1108.0 L761.2,1144.7" fill="none" stroke="#111" stroke-width="1.5" stroke-dasharray="1.5 1.2"/>
<path d="M705.1,1129.0 L761.2,1148.1" fill="none" stroke="#111" stroke-width="1.5" stroke-dasharray="1.5 1.2"/>
<path d="M705.1,1132.7 L761.2,1162.1" fill="none" stroke="#111" stroke-width="1.5" stroke-dasharray="1.5 1.2"/>
<path d="M705.1,1136.4 L761.2,1148.1" fill="none" stroke="#111" stroke-width="1.5" stroke-dasharray="1.5 1.2"/>
<path d="M705.1,1177.7 L761.2,1192.3" fill="none" stroke="#111" stroke-width="1.5" stroke-dasharray="1.5 1.2"/>
<path d="M705.1,1191.2 L761.2,1206.3" fill="none" stroke="#111" stroke-width="1.5" stroke-dasharray="1.5 1.2"/>
<path d="M705.1,1194.0 L761.2,1192.3" fill="none" stroke="#111" stroke-width="1.5" stroke-dasharray="1.5 1.2"/>
<path d="M705.1,1214.9 L761.2,1240.0" fill="none" stroke="#111" stroke-width="1.5" stroke-dasharray="1.5 1.2"/>
<path d="M705.1,1242.3 L761.2,1271.4" fill="none" stroke="#111" stroke-width="1.5" stroke-dasharray="1.5 1.2"/>
<path d="M705.1,1277.2 L761.2,1256.3" fill="none" stroke="#111" stroke-width="1.5" stroke-dasharray="1.5 1.2"/>
<path d="M850.8,985.2 L906.8,1034.3" fill="none" stroke="#111" stroke-width="1.5" stroke-dasharray="1.5 1.2"/>
<path d="M850.8,990.5 L906.8,1058.2" fill="none" stroke="#111" stroke-width="1.5" stroke-dasharray="1.5 1.2"/>
<path d="M850.8,997.1 L906.8,1110.0" fill="none" stroke="#111" stroke-width="1.5" stroke-dasharray="1.5 1.2"/>
<path d="M850.8,1006.4 L906.8,1115.3" fill="none" stroke="#111" stroke-width="1.5" stroke-dasharray="1.5 1.2"/>
<path d="M850.8,1010.4 L906.8,1128.6" fill="none" stroke="#111" stroke-width="1.5" stroke-dasharray="1.5 1.2"/>
<path d="M850.8,1019.7 L906.8,1261.3" fill="none" stroke="#111" stroke-width="1.5" stroke-dasharray="1.5 1.2"/>
<path d="M850.8,1087.4 L906.8,1139.2" fill="none" stroke="#111" stroke-width="1.5" stroke-dasharray="1.5 1.2"/>
<path d="M850.8,1100.7 L906.8,1141.9" fill="none" stroke="#111" stroke-width="1.5" stroke-dasharray="1.5 1.2"/>
<path d="M850.8,1131.2 L906.8,1151.2" fill="none" stroke="#111" stroke-width="1.5" stroke-dasharray="1.5 1.2"/>
<path d="M850.8,1139.2 L906.8,1295.0" fill="none" stroke="#111" stroke-width="1.5" stroke-dasharray="1.5 1.2"/>
<path d="M850.8,1218.3 L906.8,1335.0" fill="none" stroke="#111" stroke-width="1.5" stroke-dasharray="1.5 1.2"/>
<path d="M850.8,1247.9 L906.8,1276.7" fill="none" stroke="#111" stroke-width="1.5" stroke-dasharray="1.5 1.2"/>
<path d="M850.8,1313.3 L906.8,1342.9" fill="none" stroke="#111" stroke-width="1.5" stroke-dasharray="1.5 1.2"/>
<path d="M906.8,1034.3 L962.8,1059.5" fill="none" stroke="#111" stroke-width="1.5" stroke-dasharray="1.5 1.2"/>
<path d="M906.8,1058.2 L962.8,1107.3" fill="none" stroke="#111" stroke-width="1.5" stroke-dasharray="1.5 1.2"/>
<path d="M906.8,1110.0 L962.8,1111.2" fill="none" stroke="#111" stroke-width="1.5" stroke-dasharray="1.5 1.2"/>
<path d="M906.8,1115.3 L962.8,1126.0" fill="none" stroke="#111" stroke-width="1.5" stroke-dasharray="1.5 1.2"/>
<path d="M906.8,1128.6 L962.8,1131.2" fill="none" stroke="#111" stroke-width="1.5" stroke-dasharray="1.5 1.2"/>
<path d="M906.8,1139.2 L962.8,1148.4" fill="none" stroke="#111" stroke-width="1.5" stroke-dasharray="1.5 1.2"/>
<path d="M906.8,1141.9 L962.8,1175.0" fill="none" stroke="#111" stroke-width="1.5" stroke-dasharray="1.5 1.2"/>
<path d="M906.8,1151.2 L962.8,1192.2" fill="none" stroke="#111" stroke-width="1.5" stroke-dasharray="1.5 1.2"/>
<path d="M906.8,1261.3 L962.8,1301.0" fill="none" stroke="#111" stroke-width="1.5" stroke-dasharray="1.5 1.2"/>
<path d="M906.8,1276.7 L962.8,1284.5" fill="none" stroke="#111" stroke-width="1.5" stroke-dasharray="1.5 1.2"/>
<path d="M906.8,1295.0 L962.8,1284.5" fill="none" stroke="#111" stroke-width="1.5" stroke-dasharray="1.5 1.2"/>
<path d="M906.8,1335.0 L962.8,1308.9" fill="none" stroke="#111" stroke-width="1.5" stroke-dasharray="1.5 1.2"/>
<path d="M906.8,1342.9 L962.8,1315.9" fill="none" stroke="#111" stroke-width="1.5" stroke-dasharray="1.5 1.2"/>
<path d="M906.8,1342.9 L962.8,1322.0" fill="none" stroke="#111" stroke-width="1.5" stroke-dasharray="1.5 1.2"/>
</svg>
</body></html>
